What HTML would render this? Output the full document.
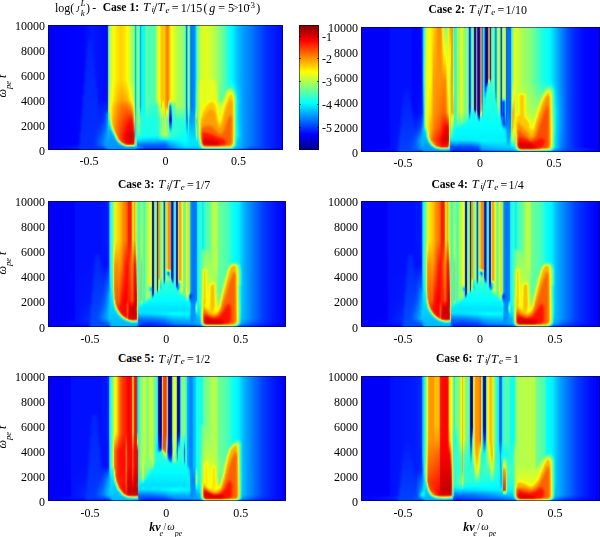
<!DOCTYPE html>
<html><head><meta charset="utf-8">
<style>
html,body{margin:0;padding:0;background:#fff;}
body{width:600px;height:537px;position:relative;overflow:hidden;font-family:"Liberation Serif",serif;color:#000;}
canvas{position:absolute;display:block;}
.t{position:absolute;white-space:nowrap;font-size:12px;line-height:12px;transform:scaleX(1);transform-origin:0 50%;}
.yl{position:absolute;white-space:nowrap;font-size:12px;line-height:12px;text-align:right;width:40px;transform:scaleX(1);transform-origin:100% 50%;}
.xl{position:absolute;white-space:nowrap;font-size:12px;line-height:12px;text-align:center;width:40px;transform:scaleX(1);transform-origin:50% 50%;}
.b{font-weight:bold;}
.p{position:absolute;white-space:nowrap;}
.rl{position:absolute;white-space:nowrap;width:40px;height:12px;font-size:12px;line-height:12px;text-align:center;transform:rotate(-90deg);transform-origin:50% 50%;}
.i{font-style:italic;}
sub,sup{font-size:70%;line-height:0;}
.cb{position:absolute;left:299px;top:25px;width:20px;height:125px;background:linear-gradient(to top,#000080 0%,#0000ff 12.5%,#00ffff 37.5%,#ffff00 62.5%,#ff0000 87.5%,#800000 100%);}
.frame{position:absolute;box-sizing:border-box;border:1px solid rgba(0,0,40,.55);pointer-events:none;}
</style></head><body>
<div id="fb"><div style="position:absolute;left:48px;top:25px;width:235px;height:1px;background:linear-gradient(90deg,#008 0.2%,#008 24.9%,#016 25.3%,#367 25.7%,#672 27.4%,#573 35.1%,#156 37.2%,#266 38.9%,#068 39.8%,#276 44.5%,#751 48.7%,#741 51.3%,#672 53.8%,#375 58.1%,#036 58.9%,#376 59.8%,#038 61.5%,#276 63.6%,#672 67.0%,#058 81.1%,#008 99.8%)"></div>
<div style="position:absolute;left:48px;top:26px;width:235px;height:65px;background:linear-gradient(90deg,#008 0.2%,#00e 0.6%,#01f 22.8%,#01e 24.9%,#03b 25.3%,#7cc 25.7%,#bf4 26.6%,#fe0 28.7%,#fd0 32.6%,#df2 34.7%,#8f8 36.4%,#6ea 36.8%,#1ba 37.2%,#4ec 37.7%,#7f9 38.5%,#5eb 38.9%,#0bb 39.4%,#1df 39.8%,#1fe 41.1%,#6fa 42.3%,#5fa 45.3%,#fe1 47.4%,#fa0 50.0%,#f80 50.9%,#ff1 52.6%,#8f7 57.7%,#5dc 58.5%,#08a 58.9%,#7fb 59.8%,#6eb 60.2%,#19c 60.6%,#08f 61.9%,#1be 62.8%,#6fa 63.6%,#cf3 65.3%,#bf4 70.9%,#0ef 78.9%,#03f 93.0%,#01f 99.4%,#008 99.8%)"></div>
<div style="position:absolute;left:48px;top:91px;width:235px;height:10px;background:linear-gradient(90deg,#008 0.2%,#00e 0.6%,#01f 15.1%,#01e 24.9%,#03a 25.3%,#8cb 25.7%,#cf3 26.6%,#fd0 28.7%,#fb0 32.6%,#ef1 35.5%,#7e9 36.8%,#2b9 37.2%,#4eb 37.7%,#7f9 38.5%,#5eb 38.9%,#0bb 39.4%,#1df 39.8%,#1fe 41.1%,#6fa 42.3%,#5fa 45.3%,#ff1 47.4%,#fa0 50.0%,#e80 50.9%,#ff1 52.6%,#8f7 57.7%,#5dc 58.5%,#08a 58.9%,#7fb 59.8%,#6eb 60.2%,#19c 60.6%,#08f 61.9%,#4ec 63.2%,#cf3 64.5%,#df2 71.3%,#6f9 73.8%,#af5 75.5%,#ed1 77.2%,#ee2 78.5%,#1ee 80.2%,#08f 85.3%,#01f 99.4%,#008 99.8%)"></div>
<div style="position:absolute;left:48px;top:101px;width:235px;height:4px;background:linear-gradient(90deg,#008 0.2%,#00e 0.6%,#02f 15.1%,#02e 24.9%,#14a 25.3%,#8da 25.7%,#df2 26.6%,#f90 30.0%,#fa0 34.3%,#fe1 36.0%,#9e8 36.8%,#3b9 37.2%,#4eb 37.7%,#7f9 38.5%,#5eb 38.9%,#0bb 39.4%,#1df 39.8%,#1fe 41.1%,#6fa 42.3%,#5fa 45.7%,#ee2 47.9%,#ec0 48.3%,#fc0 49.6%,#e90 50.9%,#dc3 51.3%,#7e8 52.1%,#af5 54.7%,#8f7 57.7%,#5dc 58.5%,#08a 58.9%,#7fb 59.8%,#6eb 60.2%,#19c 60.6%,#08f 61.9%,#2ce 62.8%,#af5 64.0%,#ef1 65.7%,#fd0 70.4%,#af5 73.8%,#fd0 76.0%,#fa0 78.1%,#ee2 78.9%,#2ed 80.2%,#0af 82.3%,#01f 98.5%,#01f 99.4%,#008 99.8%)"></div>
<div style="position:absolute;left:48px;top:105px;width:235px;height:6px;background:linear-gradient(90deg,#008 0.2%,#00e 0.6%,#01f 14.7%,#03e 24.9%,#14a 25.3%,#8da 25.7%,#ef2 26.6%,#f80 30.4%,#f70 34.7%,#fb0 36.0%,#ae7 36.8%,#3b8 37.2%,#4eb 37.7%,#7f9 38.5%,#5eb 38.9%,#1cc 39.4%,#1ef 39.8%,#3fc 41.5%,#5fa 42.3%,#4fb 46.2%,#de2 48.3%,#ee2 49.6%,#fb0 50.4%,#dc1 50.9%,#be7 51.3%,#39a 51.7%,#08c 52.1%,#5fc 53.0%,#9f6 55.5%,#6f9 58.1%,#5dc 58.5%,#08a 58.9%,#7fb 59.8%,#5ec 60.2%,#19c 60.6%,#08f 61.9%,#2cd 62.8%,#7f8 63.6%,#df2 64.9%,#fc0 70.4%,#df2 73.4%,#fd0 75.1%,#f90 77.2%,#fb0 78.5%,#bf5 79.4%,#2ed 80.2%,#0bf 81.9%,#01f 97.2%,#01f 99.4%,#008 99.8%)"></div>
<div style="position:absolute;left:48px;top:111px;width:235px;height:6px;background:linear-gradient(90deg,#008 0.2%,#00e 0.6%,#02f 14.7%,#04f 24.5%,#08d 25.3%,#5dc 25.7%,#ee1 27.0%,#f60 31.7%,#f50 35.5%,#eb1 36.4%,#ce6 36.8%,#4c8 37.2%,#4eb 37.7%,#8f8 38.5%,#1fe 39.8%,#2fc 43.6%,#3fb 46.6%,#bf4 48.7%,#de3 50.4%,#ae9 51.3%,#26a 51.7%,#04c 52.1%,#17d 52.6%,#4ee 53.0%,#6f9 55.5%,#5fb 58.1%,#4ed 58.5%,#08b 58.9%,#5ed 59.8%,#0ae 60.6%,#09f 61.9%,#0ad 62.3%,#8f9 63.2%,#cf3 64.5%,#fc0 66.2%,#fa0 70.4%,#ef1 73.0%,#fc0 74.7%,#f90 77.7%,#ed2 78.9%,#2ed 80.2%,#0bf 81.9%,#01f 97.2%,#01f 99.4%,#008 99.8%)"></div>
<div style="position:absolute;left:48px;top:117px;width:235px;height:9px;background:linear-gradient(90deg,#008 0.2%,#00e 0.6%,#02f 14.3%,#04f 24.0%,#09e 25.3%,#2de 25.7%,#de3 27.0%,#fa0 27.9%,#f10 35.1%,#e30 36.0%,#e71 36.4%,#cc6 36.8%,#5c9 37.2%,#4eb 37.7%,#9f8 38.5%,#2fd 40.2%,#3fc 47.0%,#9f7 48.7%,#af6 50.0%,#7db 51.3%,#16b 51.7%,#03c 52.1%,#06d 52.6%,#4de 53.0%,#3fc 54.7%,#3ee 58.5%,#0ad 58.9%,#1ac 59.4%,#4ee 59.8%,#0ae 60.6%,#1bd 62.3%,#7d8 63.2%,#9f6 64.0%,#ee1 64.9%,#f90 67.0%,#fa0 71.7%,#fe0 73.4%,#f60 77.2%,#fa0 78.5%,#bf5 79.4%,#2fd 80.2%,#0bf 81.9%,#01f 97.2%,#01f 99.4%,#008 99.8%)"></div>
<div style="position:absolute;left:48px;top:126px;width:235px;height:7px;background:linear-gradient(90deg,#008 0.2%,#00e 0.6%,#02f 14.3%,#05f 23.2%,#1cd 26.6%,#cd4 27.9%,#f70 29.1%,#e00 35.1%,#e10 36.0%,#d31 36.4%,#5ca 37.2%,#3ec 37.7%,#5fa 38.9%,#1fd 40.6%,#3fc 47.0%,#9f6 49.1%,#9f6 50.4%,#6fa 51.3%,#0cd 52.1%,#3fc 53.8%,#1fe 58.5%,#0ce 59.4%,#2ef 59.8%,#0bf 61.5%,#0ce 62.3%,#7f9 63.2%,#8f7 64.0%,#ec1 64.9%,#f60 66.2%,#f80 71.7%,#f80 74.7%,#f60 77.7%,#ed2 78.9%,#3fc 80.2%,#0bf 81.9%,#01f 96.8%,#01f 99.4%,#008 99.8%)"></div>
<div style="position:absolute;left:48px;top:133px;width:235px;height:4px;background:linear-gradient(90deg,#008 0.2%,#00e 0.6%,#02f 13.8%,#05f 22.8%,#0af 26.2%,#2dd 27.9%,#be6 28.7%,#e80 29.6%,#f00 33.0%,#c10 36.4%,#6ca 37.2%,#3ed 37.7%,#1fe 46.6%,#9f6 49.6%,#6f9 51.3%,#3fc 53.0%,#0df 60.2%,#0ce 62.3%,#7fb 63.2%,#5e9 63.6%,#be5 64.5%,#f70 65.3%,#f20 66.2%,#f50 71.7%,#f80 78.1%,#ed2 78.9%,#3fc 80.2%,#0bf 81.9%,#01f 96.8%,#01f 99.4%,#008 99.8%)"></div>
<div style="position:absolute;left:48px;top:137px;width:235px;height:3px;background:linear-gradient(90deg,#008 0.2%,#00e 0.6%,#02f 13.8%,#05f 21.9%,#09f 26.2%,#0be 28.3%,#7e9 29.1%,#cd5 29.6%,#e60 30.4%,#f00 33.0%,#c10 36.4%,#8d9 37.2%,#1ee 38.1%,#1ee 47.9%,#1fe 51.7%,#0df 60.6%,#1ed 62.8%,#5fa 64.0%,#ec3 64.9%,#e30 65.7%,#e00 67.0%,#f50 75.5%,#f80 78.1%,#ed2 78.9%,#2ed 80.2%,#0af 82.3%,#01f 98.1%,#01f 99.4%,#008 99.8%)"></div>
<div style="position:absolute;left:48px;top:140px;width:235px;height:3px;background:linear-gradient(90deg,#008 0.2%,#00e 0.6%,#02f 13.8%,#05f 21.5%,#09f 26.2%,#1be 29.1%,#7e9 30.0%,#e71 31.3%,#f10 33.0%,#c20 36.4%,#9d8 37.2%,#4ec 37.7%,#1cd 38.1%,#0bf 42.8%,#0cf 51.3%,#0ef 59.8%,#0ee 63.6%,#7f9 64.5%,#ce5 64.9%,#e40 65.7%,#d00 66.6%,#f20 74.7%,#f80 78.1%,#ee3 78.9%,#1ed 80.2%,#07f 86.6%,#01f 99.4%,#008 99.8%)"></div>
<div style="position:absolute;left:48px;top:143px;width:235px;height:2px;background:linear-gradient(90deg,#008 0.2%,#00e 0.6%,#01f 13.4%,#05f 21.9%,#09f 25.7%,#0ae 30.0%,#8e9 31.3%,#d92 32.6%,#e30 34.3%,#c50 36.4%,#cb5 36.8%,#4ed 37.7%,#09d 38.1%,#07f 42.3%,#09f 50.9%,#0ef 59.4%,#1ee 64.0%,#9f7 64.9%,#ed4 65.3%,#e70 65.7%,#d10 66.6%,#f20 74.3%,#e90 78.1%,#cf4 78.9%,#1de 80.2%,#05f 89.6%,#01f 99.4%,#008 99.8%)"></div>
<div style="position:absolute;left:48px;top:145px;width:235px;height:1px;background:linear-gradient(90deg,#008 0.2%,#00e 0.6%,#02f 13.8%,#05f 22.3%,#09f 26.2%,#0ae 30.9%,#ae8 33.0%,#dd7 35.1%,#be8 36.4%,#2df 37.7%,#09e 38.1%,#06f 44.0%,#07f 50.9%,#0df 59.4%,#0ee 64.0%,#6f9 64.9%,#ec3 65.7%,#e50 66.6%,#e40 72.6%,#ea0 77.7%,#de4 78.5%,#2ed 79.8%,#0af 82.3%,#01f 99.4%,#008 99.8%)"></div>
<div style="position:absolute;left:48px;top:146px;width:235px;height:1px;background:linear-gradient(90deg,#008 0.2%,#00f 0.6%,#05f 22.3%,#09f 26.2%,#0ae 31.7%,#6da 34.3%,#3dd 36.8%,#07f 38.9%,#05f 44.9%,#07f 50.9%,#0df 59.8%,#1ee 64.5%,#be6 65.7%,#ea2 67.0%,#eb2 75.1%,#cf4 78.1%,#1de 79.8%,#04f 90.0%,#01f 99.4%,#008 99.8%)"></div>
<div style="position:absolute;left:48px;top:147px;width:235px;height:1px;background:linear-gradient(90deg,#008 0.2%,#00f 0.6%,#05f 23.2%,#08f 26.6%,#0be 36.8%,#04f 42.3%,#06f 50.9%,#1cf 60.6%,#1df 64.5%,#ae7 66.6%,#9f7 77.7%,#0cf 79.8%,#04f 90.0%,#00f 99.4%,#008 99.8%)"></div>
<div style="position:absolute;left:48px;top:148px;width:235px;height:1px;background:linear-gradient(90deg,#008 0.2%,#00e 0.6%,#02f 13.8%,#04f 24.0%,#08f 27.0%,#08f 37.2%,#03f 42.3%,#05f 51.7%,#09f 61.5%,#2ce 65.3%,#5db 67.9%,#4dc 78.1%,#09f 80.2%,#00f 98.5%,#00f 99.4%,#008 99.8%)"></div>
<div style="position:absolute;left:48px;top:149px;width:235px;height:1px;background:linear-gradient(90deg,#008 0.2%,#028 24.9%,#038 37.2%,#018 48.7%,#057 77.7%,#008 99.8%)"></div>
<div style="position:absolute;left:361px;top:27px;width:239px;height:1px;background:linear-gradient(90deg,#008 0.2%,#018 25.3%,#276 26.6%,#771 28.7%,#741 33.3%,#474 35.8%,#641 37.9%,#177 39.5%,#672 42.1%,#257 45.0%,#026 45.4%,#376 46.7%,#366 47.1%,#014 47.5%,#114 47.9%,#436 48.3%,#005 49.2%,#534 50.0%,#245 50.8%,#268 51.3%,#005 52.5%,#544 53.3%,#544 53.8%,#123 54.2%,#366 54.6%,#167 55.9%,#156 56.7%,#574 57.5%,#246 58.4%,#024 58.8%,#465 59.2%,#574 60.0%,#038 61.3%,#037 62.6%,#574 63.8%,#573 66.3%,#058 81.4%,#008 96.0%,#008 99.8%)"></div>
<div style="position:absolute;left:361px;top:28px;width:239px;height:58px;background:linear-gradient(90deg,#008 0.2%,#00f 0.6%,#01e 25.3%,#3ce 26.2%,#9f6 27.0%,#ef1 28.2%,#f80 32.8%,#ef2 36.6%,#cb1 38.3%,#ae7 38.7%,#5ea 39.1%,#3fb 39.5%,#9f7 40.4%,#df2 42.1%,#8f7 43.7%,#7fa 44.6%,#4cd 45.0%,#04a 45.4%,#17c 45.8%,#6dc 46.2%,#7fa 46.7%,#7db 47.1%,#026 47.5%,#216 47.9%,#97b 48.3%,#339 48.7%,#109 49.2%,#316 49.6%,#b76 50.0%,#a96 50.4%,#488 50.8%,#4df 51.3%,#29e 51.7%,#02a 52.1%,#315 52.9%,#b97 53.3%,#b97 53.8%,#255 54.2%,#6cb 54.6%,#6fa 55.4%,#3dd 55.9%,#09c 56.3%,#3bb 56.7%,#9e9 57.1%,#af6 57.5%,#9e9 57.9%,#4aa 58.4%,#157 58.8%,#ad9 59.2%,#bf5 59.6%,#bf5 60.0%,#9d9 60.5%,#16a 60.9%,#06e 61.3%,#07d 62.6%,#3de 63.0%,#df3 64.2%,#0ef 79.7%,#02f 90.2%,#00f 99.4%,#008 99.8%)"></div>
<div style="position:absolute;left:361px;top:86px;width:239px;height:7px;background:linear-gradient(90deg,#008 0.2%,#00f 0.6%,#01e 25.3%,#2be 26.2%,#af6 27.0%,#ef1 27.8%,#fb0 29.9%,#f80 32.8%,#f80 35.4%,#ff1 36.6%,#cd3 37.4%,#db1 38.3%,#ce5 38.7%,#6e8 39.1%,#4fb 39.5%,#9f7 40.4%,#df2 42.1%,#8f7 43.7%,#7fa 44.6%,#4cd 45.0%,#04a 45.4%,#17c 45.8%,#6dc 46.2%,#7fa 46.7%,#7db 47.1%,#026 47.5%,#216 47.9%,#97b 48.3%,#339 48.7%,#109 49.2%,#316 49.6%,#b76 50.0%,#a96 50.4%,#488 50.8%,#4df 51.3%,#06d 52.1%,#2de 52.9%,#4fb 55.0%,#3ee 55.9%,#0ac 56.3%,#3bb 56.7%,#9f9 57.1%,#af6 57.5%,#9e9 57.9%,#4aa 58.4%,#157 58.8%,#ad9 59.2%,#bf5 59.6%,#bf5 60.0%,#9d9 60.5%,#16a 60.9%,#06e 61.3%,#06f 62.1%,#07d 62.6%,#5dc 63.0%,#cf3 63.8%,#cf2 65.1%,#5fa 76.4%,#af5 78.5%,#0df 81.0%,#03f 88.9%,#00f 99.4%,#008 99.8%)"></div>
<div style="position:absolute;left:361px;top:93px;width:239px;height:8px;background:linear-gradient(90deg,#008 0.2%,#00f 0.6%,#00f 21.5%,#01e 25.3%,#2ae 26.2%,#af6 27.0%,#ef1 27.8%,#fb0 29.9%,#f70 34.9%,#df3 37.0%,#db1 38.3%,#ce5 38.7%,#6e8 39.1%,#4fb 39.5%,#9f7 40.4%,#df2 42.1%,#8f7 43.7%,#7fa 44.6%,#4cd 45.0%,#04a 45.4%,#17c 45.8%,#6dc 46.2%,#7fa 46.7%,#7db 47.1%,#026 47.5%,#216 47.9%,#97b 48.3%,#339 48.7%,#109 49.2%,#316 49.6%,#b76 50.0%,#a96 50.4%,#498 50.8%,#3de 51.3%,#0de 52.1%,#3fc 54.6%,#2ee 55.9%,#1cd 56.3%,#2cb 56.7%,#8f8 57.1%,#af6 57.5%,#9e9 57.9%,#4aa 58.4%,#058 58.8%,#8db 59.2%,#9e8 59.6%,#9e8 60.0%,#8db 60.5%,#16a 60.9%,#06e 61.3%,#06e 62.1%,#07c 62.6%,#6db 63.0%,#ef2 63.8%,#ef2 65.9%,#ed1 68.0%,#9f6 70.9%,#8f7 75.1%,#fc1 77.2%,#fa0 78.5%,#ee2 79.3%,#1ee 81.0%,#04f 87.2%,#00f 98.5%,#00f 99.4%,#008 99.8%)"></div>
<div style="position:absolute;left:361px;top:101px;width:239px;height:11px;background:linear-gradient(90deg,#008 0.2%,#00f 0.6%,#01f 21.1%,#02e 25.3%,#1ae 26.2%,#9f6 27.0%,#ff1 27.8%,#f80 32.0%,#f70 35.4%,#ef3 37.0%,#db1 37.9%,#eb1 38.3%,#4fb 39.5%,#9f7 40.4%,#df2 42.1%,#8f7 43.7%,#7fa 44.6%,#4cd 45.0%,#04a 45.4%,#17c 45.8%,#5dd 46.2%,#6fb 46.7%,#6dc 47.1%,#048 47.5%,#227 47.9%,#98c 48.3%,#339 48.7%,#009 49.2%,#316 49.6%,#b86 50.0%,#bb6 50.4%,#4b9 50.8%,#2ee 51.3%,#2fc 56.7%,#8f8 57.5%,#8ea 57.9%,#03c 58.8%,#15f 59.2%,#04e 59.6%,#3bf 60.5%,#06d 60.9%,#06e 62.1%,#07c 62.6%,#7da 63.0%,#ed1 63.8%,#df2 65.5%,#fc0 67.6%,#af4 70.1%,#af5 73.8%,#fb0 75.9%,#f70 78.0%,#ed1 79.3%,#2fd 81.0%,#0af 83.1%,#02f 90.2%,#00f 99.4%,#008 99.8%)"></div>
<div style="position:absolute;left:361px;top:112px;width:239px;height:5px;background:linear-gradient(90deg,#008 0.2%,#00f 0.6%,#02f 17.8%,#01f 24.9%,#05e 25.7%,#5eb 26.6%,#df3 27.4%,#fd0 29.1%,#f70 32.0%,#f60 35.4%,#eb0 36.6%,#ee3 37.0%,#ce3 37.4%,#ed1 38.3%,#be4 38.7%,#4fb 39.5%,#9f6 40.8%,#bf4 42.5%,#7f8 43.7%,#6fa 44.6%,#4dd 45.0%,#08c 45.4%,#2ef 46.2%,#2cc 47.9%,#6ee 48.3%,#02a 49.2%,#127 49.6%,#ac9 50.0%,#9f9 50.4%,#3da 50.8%,#2fe 51.3%,#2fd 57.1%,#4ed 57.9%,#04d 58.8%,#15f 59.2%,#03e 59.6%,#2af 60.5%,#06e 60.9%,#07e 62.1%,#17b 62.6%,#8ca 63.0%,#cc4 63.4%,#ec0 64.2%,#ee1 65.5%,#fd0 68.0%,#bf4 70.5%,#cf3 73.0%,#fb0 74.7%,#f50 77.6%,#f90 78.9%,#df3 79.7%,#1ee 81.4%,#04f 87.2%,#00f 98.5%,#00f 99.4%,#008 99.8%)"></div>
<div style="position:absolute;left:361px;top:117px;width:239px;height:6px;background:linear-gradient(90deg,#008 0.2%,#00f 0.6%,#02f 16.9%,#03f 24.9%,#1ae 26.2%,#9f7 27.0%,#fe1 27.8%,#f50 33.3%,#f40 35.8%,#e80 36.6%,#ee4 37.0%,#be3 37.4%,#df3 38.3%,#3fb 39.5%,#8f7 42.1%,#1ff 45.8%,#1ef 48.7%,#0ad 49.6%,#2ee 50.0%,#1fe 55.4%,#1df 58.4%,#05e 59.6%,#18f 60.5%,#07f 61.3%,#07e 62.1%,#18b 62.6%,#8d9 63.0%,#cc3 63.4%,#fd0 64.2%,#fd0 69.2%,#cf3 72.2%,#fb0 73.8%,#f50 76.8%,#f70 78.5%,#ef3 79.7%,#1ee 81.4%,#04f 87.2%,#00f 98.5%,#00f 99.4%,#008 99.8%)"></div>
<div style="position:absolute;left:361px;top:123px;width:239px;height:6px;background:linear-gradient(90deg,#008 0.2%,#00f 0.6%,#02f 16.5%,#04f 24.9%,#1be 26.2%,#8f8 27.0%,#ee1 27.8%,#f50 32.8%,#f10 35.8%,#d40 36.6%,#ed5 37.0%,#ae5 37.4%,#9f7 38.3%,#2fd 39.5%,#0ff 57.1%,#0df 58.8%,#08e 60.0%,#08e 62.1%,#29b 62.6%,#9d9 63.0%,#cc3 63.4%,#fe0 64.2%,#f90 66.3%,#fe1 72.2%,#f50 75.5%,#f70 78.5%,#ef2 79.7%,#1ee 81.4%,#04f 87.7%,#00f 99.4%,#008 99.8%)"></div>
<div style="position:absolute;left:361px;top:129px;width:239px;height:8px;background:linear-gradient(90deg,#008 0.2%,#00f 0.6%,#02f 16.1%,#06f 24.5%,#1dd 27.0%,#de3 28.2%,#fa0 29.1%,#e00 34.9%,#d00 36.2%,#c30 36.6%,#dd6 37.0%,#7e8 37.4%,#0ff 39.5%,#0df 60.5%,#09f 61.7%,#2bc 62.6%,#8e8 63.0%,#ce4 63.4%,#de2 64.6%,#f60 65.9%,#fb0 71.8%,#f50 75.1%,#f60 78.5%,#ef2 79.7%,#1ee 81.4%,#04f 87.2%,#00f 98.5%,#00f 99.4%,#008 99.8%)"></div>
<div style="position:absolute;left:361px;top:137px;width:239px;height:5px;background:linear-gradient(90deg,#008 0.2%,#00f 0.6%,#02f 15.7%,#07f 23.6%,#1ce 27.4%,#ce5 28.7%,#e90 29.5%,#f20 32.4%,#d00 36.2%,#b30 36.6%,#cd8 37.0%,#4da 37.4%,#0ef 38.3%,#0ef 60.5%,#0af 61.7%,#2dd 62.6%,#af7 63.4%,#8f6 64.2%,#ed3 65.1%,#e70 65.5%,#f20 66.3%,#f50 72.2%,#f20 75.9%,#f60 78.5%,#ef3 79.7%,#2ed 81.0%,#0af 82.6%,#02f 90.6%,#00f 99.4%,#008 99.8%)"></div>
<div style="position:absolute;left:361px;top:142px;width:239px;height:3px;background:linear-gradient(90deg,#008 0.2%,#00f 0.6%,#02f 15.3%,#07f 23.6%,#0af 26.6%,#1be 28.2%,#ae6 29.5%,#f80 30.8%,#f10 33.7%,#e10 36.2%,#c51 36.6%,#bc9 37.0%,#3ab 37.4%,#09f 38.3%,#0bf 49.6%,#0df 60.5%,#0cf 62.1%,#4fb 63.8%,#5f9 64.2%,#ed4 65.1%,#e60 65.5%,#e20 65.9%,#e00 69.7%,#f30 76.8%,#f90 78.9%,#ef3 79.7%,#2ed 81.0%,#09f 83.1%,#01f 91.8%,#00f 99.4%,#008 99.8%)"></div>
<div style="position:absolute;left:361px;top:145px;width:239px;height:2px;background:linear-gradient(90deg,#008 0.2%,#00f 0.6%,#02f 15.3%,#08f 24.1%,#09f 27.4%,#1be 29.1%,#9e8 30.3%,#d91 31.6%,#e20 34.5%,#d30 36.2%,#c83 36.6%,#aca 37.0%,#28b 37.4%,#06f 38.3%,#08f 49.2%,#0bf 52.1%,#0df 62.6%,#3fc 64.2%,#ce6 65.1%,#e81 65.5%,#d30 65.9%,#d00 66.7%,#f20 75.5%,#f70 78.5%,#ec1 79.3%,#df3 79.7%,#2ed 81.0%,#06f 85.1%,#00f 95.6%,#00f 99.4%,#008 99.8%)"></div>
<div style="position:absolute;left:361px;top:147px;width:239px;height:1px;background:linear-gradient(90deg,#008 0.2%,#00f 0.6%,#02f 15.3%,#07f 24.1%,#1be 29.9%,#ae8 31.6%,#dc5 32.8%,#d93 34.9%,#ca3 36.2%,#bd7 36.6%,#7db 37.0%,#17c 37.4%,#04f 38.7%,#06f 49.2%,#0af 51.7%,#0df 63.8%,#4eb 64.6%,#dc4 65.5%,#d60 65.9%,#d10 66.7%,#e20 74.3%,#e90 78.5%,#bf5 79.7%,#1ee 81.0%,#05f 85.6%,#00f 98.1%,#00f 99.4%,#008 99.8%)"></div>
<div style="position:absolute;left:361px;top:148px;width:239px;height:1px;background:linear-gradient(90deg,#008 0.2%,#00f 0.6%,#02f 15.3%,#08f 24.9%,#0ae 30.3%,#8e9 32.8%,#9d9 35.8%,#5cd 37.0%,#06d 37.4%,#04f 39.1%,#05f 49.2%,#0af 51.7%,#0de 64.2%,#6ea 65.1%,#be7 65.5%,#d71 66.3%,#d30 68.0%,#e60 74.3%,#de3 78.9%,#2ed 80.5%,#09f 82.6%,#02f 90.2%,#00f 99.4%,#008 99.8%)"></div>
<div style="position:absolute;left:361px;top:149px;width:239px;height:1px;background:linear-gradient(90deg,#008 0.2%,#00f 0.6%,#02f 15.3%,#0ae 31.6%,#4dc 35.4%,#2bf 37.0%,#06e 37.4%,#03f 39.5%,#04f 49.2%,#09f 51.7%,#0cf 64.2%,#7ea 65.5%,#cd6 66.3%,#d94 68.0%,#dc5 74.7%,#9f7 78.9%,#0bf 81.0%,#03f 88.1%,#00f 99.4%,#008 99.8%)"></div>
<div style="position:absolute;left:361px;top:150px;width:239px;height:1px;background:linear-gradient(90deg,#008 0.2%,#00e 0.6%,#02f 15.3%,#04f 20.3%,#06f 25.7%,#09f 29.9%,#09e 36.6%,#02f 38.3%,#04f 49.6%,#07f 53.8%,#0ae 64.6%,#8d9 66.7%,#7e9 75.1%,#3dd 79.3%,#08f 81.4%,#02f 91.4%,#00e 99.4%,#008 99.8%)"></div>
<div style="position:absolute;left:361px;top:151px;width:239px;height:1px;background:linear-gradient(90deg,#008 0.2%,#028 25.7%,#048 36.6%,#018 39.5%,#157 66.3%,#038 80.1%,#008 99.8%)"></div>
<div style="position:absolute;left:48px;top:201px;width:238px;height:1px;background:linear-gradient(90deg,#008 0.2%,#017 25.4%,#277 26.7%,#761 29.2%,#611 34.7%,#762 35.9%,#276 38.4%,#474 41.4%,#673 43.1%,#564 43.5%,#114 43.9%,#014 44.3%,#366 44.7%,#465 45.6%,#122 46.0%,#543 46.4%,#475 48.1%,#035 48.9%,#356 49.4%,#741 50.6%,#534 51.5%,#016 52.3%,#268 53.2%,#268 53.6%,#016 54.0%,#115 54.4%,#655 54.8%,#651 55.7%,#474 57.8%,#662 58.6%,#038 60.7%,#048 62.4%,#177 63.7%,#375 68.3%,#474 71.2%,#058 82.1%,#008 99.8%)"></div>
<div style="position:absolute;left:48px;top:202px;width:238px;height:62px;background:linear-gradient(90deg,#008 0.2%,#00f 0.6%,#02f 25.0%,#03e 25.4%,#3ee 26.3%,#9f6 27.5%,#fd0 28.8%,#f40 33.4%,#e30 34.7%,#fb1 35.5%,#e90 36.3%,#be5 37.2%,#5fa 38.0%,#9f7 39.3%,#5fa 40.5%,#df2 42.6%,#ef3 43.1%,#cd7 43.5%,#225 43.9%,#037 44.3%,#8db 44.7%,#8e9 45.2%,#8d9 45.6%,#332 46.0%,#b95 46.4%,#cb3 46.8%,#9f6 47.7%,#9f9 48.1%,#4bb 48.5%,#069 48.9%,#8ca 49.4%,#fc1 50.2%,#e81 51.1%,#c86 51.5%,#338 51.9%,#02a 52.3%,#5de 53.2%,#5ce 53.6%,#03a 54.0%,#237 54.4%,#dc8 54.8%,#ea1 55.3%,#fd1 56.1%,#6f8 57.4%,#de1 58.6%,#ce3 59.0%,#8e8 59.5%,#2bc 59.9%,#07f 60.7%,#08e 62.4%,#1df 62.8%,#4fb 65.8%,#8f7 68.7%,#af5 70.8%,#6f9 72.9%,#0ef 80.5%,#03f 92.2%,#00f 99.4%,#008 99.8%)"></div>
<div style="position:absolute;left:48px;top:264px;width:238px;height:6px;background:linear-gradient(90deg,#008 0.2%,#00f 0.6%,#01f 23.3%,#03e 25.4%,#2ee 26.3%,#7f8 27.1%,#ce5 27.5%,#da1 27.9%,#f60 31.3%,#f10 33.4%,#f71 35.5%,#e20 36.3%,#d30 36.8%,#d94 37.2%,#9d8 37.6%,#5fa 38.0%,#7e8 38.9%,#9d6 39.3%,#5fa 40.5%,#df2 42.6%,#ef3 43.1%,#cd7 43.5%,#225 43.9%,#037 44.3%,#8db 44.7%,#8e9 45.2%,#8d9 45.6%,#332 46.0%,#b95 46.4%,#cb3 46.8%,#9f6 47.7%,#9f9 48.1%,#4bb 48.5%,#069 48.9%,#8ca 49.4%,#ec1 50.2%,#e91 51.1%,#c86 51.5%,#338 51.9%,#02a 52.3%,#5de 53.2%,#5ce 53.6%,#03a 54.0%,#237 54.4%,#dc8 54.8%,#ea1 55.3%,#fd1 56.1%,#6f8 57.4%,#de1 58.6%,#ce3 59.0%,#8e8 59.5%,#2bc 59.9%,#07f 60.7%,#08e 62.4%,#1df 62.8%,#7f8 64.9%,#af5 66.2%,#af5 70.8%,#6f9 72.9%,#6f9 75.4%,#ec1 77.5%,#de3 79.2%,#1ee 80.9%,#07f 86.3%,#00f 99.4%,#008 99.8%)"></div>
<div style="position:absolute;left:48px;top:270px;width:238px;height:11px;background:linear-gradient(90deg,#008 0.2%,#00f 0.6%,#03f 25.0%,#05e 25.4%,#1ef 26.3%,#6f9 27.1%,#ce6 27.5%,#da1 27.9%,#f80 29.6%,#f10 33.4%,#f61 35.5%,#e10 36.3%,#d20 36.8%,#ad8 37.6%,#5ea 38.0%,#4fb 38.4%,#8d6 39.3%,#5fa 40.5%,#df2 42.6%,#ef3 43.1%,#cd7 43.5%,#225 43.9%,#037 44.3%,#8db 44.7%,#8e9 45.2%,#8d9 45.6%,#342 46.0%,#b95 46.4%,#cb4 46.8%,#9f9 48.1%,#4bb 48.5%,#069 48.9%,#5dc 49.4%,#7fa 49.8%,#4da 50.6%,#7dc 51.5%,#15a 51.9%,#03a 52.3%,#5de 53.2%,#5ce 53.6%,#03a 54.0%,#237 54.4%,#dc8 54.8%,#ea1 55.3%,#ed1 56.1%,#6f8 57.4%,#de1 58.6%,#ce3 59.0%,#8e8 59.5%,#2bc 59.9%,#07f 60.7%,#08e 62.4%,#1df 62.8%,#7f8 64.5%,#ef2 65.3%,#ee1 66.2%,#af5 68.3%,#8f7 71.2%,#6f9 73.7%,#ec1 75.8%,#f70 77.9%,#fc1 79.2%,#af5 80.0%,#1de 81.3%,#07f 86.8%,#00f 99.4%,#008 99.8%)"></div>
<div style="position:absolute;left:48px;top:281px;width:238px;height:5px;background:linear-gradient(90deg,#008 0.2%,#00f 0.6%,#02f 19.1%,#05f 25.0%,#0af 25.8%,#2fd 26.7%,#ce6 27.5%,#d91 27.9%,#f70 29.2%,#f40 30.9%,#f10 33.4%,#f61 35.5%,#e10 36.3%,#d10 36.8%,#c52 37.2%,#bd7 37.6%,#5ea 38.0%,#4fb 38.4%,#8d7 39.3%,#5fa 40.5%,#cf3 42.6%,#df4 43.1%,#bd8 43.5%,#136 43.9%,#037 44.3%,#8db 44.7%,#8e9 45.2%,#8d9 45.6%,#242 46.0%,#bc7 46.4%,#9f8 46.8%,#4ea 47.3%,#4fd 48.1%,#1cc 48.9%,#3fc 50.2%,#2ee 51.9%,#1dd 52.7%,#3ed 53.2%,#4df 53.6%,#04b 54.0%,#03b 54.4%,#4be 54.8%,#af6 55.7%,#cf4 56.1%,#6f8 57.4%,#de1 58.6%,#ce3 59.0%,#8e8 59.5%,#2bc 59.9%,#07f 60.7%,#08e 62.4%,#1df 62.8%,#4fa 64.1%,#ee2 65.3%,#fe0 66.2%,#cf3 67.9%,#df3 70.0%,#5f9 72.1%,#6f8 73.3%,#fc0 75.0%,#f60 77.5%,#f90 78.8%,#ee3 79.6%,#1de 81.3%,#06f 88.0%,#00f 99.4%,#008 99.8%)"></div>
<div style="position:absolute;left:48px;top:286px;width:238px;height:7px;background:linear-gradient(90deg,#008 0.2%,#00f 0.6%,#03f 19.1%,#05f 24.6%,#0af 25.8%,#1ee 26.7%,#5ea 27.1%,#be7 27.5%,#d91 27.9%,#f60 29.2%,#f40 30.9%,#f00 33.0%,#f51 35.5%,#e10 36.3%,#d10 36.8%,#c41 37.2%,#bd7 37.6%,#6ea 38.0%,#4fb 38.4%,#8d7 39.3%,#4fa 40.5%,#af6 41.8%,#4eb 43.1%,#4be 43.5%,#03a 43.9%,#038 44.3%,#7dc 44.7%,#7fa 45.2%,#7da 45.6%,#275 46.0%,#7da 46.4%,#1fe 47.7%,#2fe 53.6%,#0be 54.4%,#4eb 55.3%,#bf4 56.1%,#6f8 57.4%,#de1 58.6%,#ce3 59.0%,#8e9 59.5%,#2bc 59.9%,#07f 60.7%,#08e 62.4%,#1df 62.8%,#4fa 64.1%,#ee2 65.3%,#fd0 66.2%,#ef1 67.9%,#fb0 69.1%,#df3 70.4%,#6f9 71.6%,#7f7 72.9%,#ed1 74.2%,#f60 76.3%,#f70 78.4%,#ec1 79.2%,#9f7 80.0%,#1ee 80.9%,#07f 85.9%,#00f 99.4%,#008 99.8%)"></div>
<div style="position:absolute;left:48px;top:293px;width:238px;height:6px;background:linear-gradient(90deg,#008 0.2%,#00f 0.6%,#02f 18.3%,#06f 24.2%,#0ee 26.7%,#3ec 27.1%,#8e8 27.5%,#e70 28.4%,#f00 32.6%,#f51 35.5%,#d00 36.8%,#b30 37.2%,#cc7 37.6%,#6e9 38.0%,#4fb 38.4%,#8d7 39.3%,#4fa 40.5%,#9f6 41.8%,#6fa 43.1%,#3dd 43.5%,#09c 43.9%,#0ad 44.3%,#2ef 44.7%,#2fd 55.7%,#3fb 57.4%,#af6 58.6%,#8e9 59.0%,#06d 59.9%,#07f 62.0%,#08e 62.4%,#1df 62.8%,#5fa 64.1%,#ee2 65.3%,#fd0 66.2%,#ff1 67.9%,#fb0 69.1%,#ef2 70.4%,#7f8 71.6%,#9f6 72.5%,#fb0 73.7%,#f60 75.8%,#f70 78.4%,#fc1 79.2%,#de3 79.6%,#2ee 80.9%,#07f 85.9%,#00f 99.4%,#008 99.8%)"></div>
<div style="position:absolute;left:48px;top:299px;width:238px;height:5px;background:linear-gradient(90deg,#008 0.2%,#00f 0.6%,#02f 18.3%,#07f 24.2%,#0df 26.7%,#1ed 27.1%,#cd6 27.9%,#e91 28.4%,#f50 29.2%,#f00 32.6%,#f30 35.5%,#c00 36.8%,#b30 37.2%,#cd7 37.6%,#6e9 38.0%,#4fb 38.4%,#7f9 39.3%,#2fc 40.5%,#0ff 48.1%,#2fe 59.0%,#07f 60.7%,#09f 62.0%,#1fe 63.2%,#8f7 64.5%,#ed1 65.3%,#fe1 67.9%,#fb0 69.1%,#ef2 70.4%,#9f6 71.6%,#ed1 72.9%,#f60 74.6%,#f70 78.4%,#fb1 79.2%,#de3 79.6%,#2ed 80.9%,#09f 84.2%,#00f 98.1%,#00f 99.4%,#008 99.8%)"></div>
<div style="position:absolute;left:48px;top:304px;width:238px;height:6px;background:linear-gradient(90deg,#008 0.2%,#00f 0.6%,#02f 17.9%,#07f 24.2%,#1dd 27.5%,#ae7 28.4%,#e71 29.2%,#f10 30.5%,#f00 32.6%,#f41 33.4%,#e00 34.7%,#c00 36.8%,#b40 37.2%,#cd8 37.6%,#5ea 38.0%,#1ee 38.9%,#1ef 59.5%,#08f 60.7%,#09e 61.6%,#5fd 62.4%,#1ee 63.2%,#4fb 64.1%,#df4 64.9%,#fc0 65.8%,#fe0 67.9%,#fc0 69.5%,#df2 71.2%,#fc1 72.5%,#f50 74.2%,#f20 76.3%,#f80 78.8%,#ee3 79.6%,#2ed 80.9%,#0bf 82.1%,#01f 96.0%,#00f 99.4%,#008 99.8%)"></div>
<div style="position:absolute;left:48px;top:310px;width:238px;height:5px;background:linear-gradient(90deg,#008 0.2%,#00f 0.6%,#02f 17.4%,#08f 24.2%,#0cf 27.1%,#3dc 28.8%,#ad6 29.6%,#e30 30.9%,#f00 32.6%,#f41 33.4%,#d00 34.7%,#c00 36.8%,#b30 37.2%,#cc8 37.6%,#4ca 38.0%,#1de 38.4%,#1ef 59.5%,#08f 60.7%,#1be 62.0%,#1ee 62.8%,#1ee 63.7%,#9f7 64.5%,#ee4 64.9%,#ea0 65.3%,#f70 66.2%,#fd0 70.4%,#f20 74.2%,#f30 76.7%,#f80 78.8%,#ee3 79.6%,#2ed 80.9%,#0bf 82.1%,#01f 96.0%,#00f 99.4%,#008 99.8%)"></div>
<div style="position:absolute;left:48px;top:315px;width:238px;height:3px;background:linear-gradient(90deg,#008 0.2%,#00f 0.6%,#02f 17.0%,#09f 24.6%,#0cf 27.5%,#1ce 29.6%,#9e8 30.9%,#e61 32.1%,#e30 33.0%,#f41 33.4%,#d00 34.7%,#d00 36.8%,#c30 37.2%,#dc8 37.6%,#4aa 38.0%,#0af 38.9%,#0df 59.5%,#08f 60.7%,#0de 63.7%,#9f7 64.5%,#ed4 64.9%,#e70 65.3%,#f20 66.2%,#f60 70.4%,#f10 74.6%,#f40 77.1%,#f80 78.8%,#ee3 79.6%,#2ed 80.9%,#0af 82.6%,#01f 96.4%,#00f 99.4%,#008 99.8%)"></div>
<div style="position:absolute;left:48px;top:318px;width:238px;height:2px;background:linear-gradient(90deg,#008 0.2%,#00f 0.6%,#02f 16.6%,#09f 24.6%,#0bf 27.9%,#1de 30.9%,#bd6 32.6%,#ea3 33.4%,#d40 34.2%,#d30 36.8%,#b51 37.2%,#cc9 37.6%,#38a 38.0%,#07f 38.9%,#0bf 59.5%,#08f 60.7%,#0ce 63.7%,#3dc 64.1%,#ed4 64.9%,#e60 65.3%,#e20 65.8%,#e00 68.3%,#f30 76.7%,#f80 78.8%,#ee3 79.6%,#2ee 80.9%,#09f 83.4%,#01f 97.3%,#00f 99.4%,#008 99.8%)"></div>
<div style="position:absolute;left:48px;top:320px;width:238px;height:2px;background:linear-gradient(90deg,#008 0.2%,#00f 0.6%,#03f 17.4%,#09f 25.4%,#0bf 29.6%,#2dd 32.6%,#bd6 35.1%,#bc6 36.8%,#6dc 37.6%,#17c 38.0%,#06f 39.3%,#09f 51.9%,#09f 59.9%,#0be 63.7%,#2dc 64.1%,#ed5 64.9%,#e70 65.3%,#d20 65.8%,#d00 69.5%,#f20 76.3%,#f90 78.8%,#ee3 79.6%,#1de 80.9%,#08f 83.8%,#00f 98.5%,#00f 99.4%,#008 99.8%)"></div>
<div style="position:absolute;left:48px;top:322px;width:238px;height:2px;background:linear-gradient(90deg,#008 0.2%,#00f 0.6%,#03f 17.9%,#07f 25.4%,#0bf 27.5%,#2de 37.2%,#05f 38.4%,#05f 48.9%,#09f 58.2%,#0bf 63.7%,#6ea 64.5%,#be7 64.9%,#d40 65.8%,#d10 67.0%,#e30 75.0%,#e90 78.4%,#bf5 79.6%,#1ce 80.9%,#06f 85.1%,#00f 99.4%,#008 99.8%)"></div>
<div style="position:absolute;left:48px;top:324px;width:238px;height:1px;background:linear-gradient(90deg,#008 0.2%,#00e 0.6%,#02f 17.4%,#05f 22.9%,#07f 25.8%,#0bf 27.5%,#0bf 37.2%,#03f 38.9%,#05f 51.5%,#09f 63.7%,#3dd 64.5%,#be7 65.3%,#d71 66.6%,#e81 74.2%,#dd4 78.4%,#4dd 80.0%,#08f 81.3%,#01f 95.6%,#00f 99.4%,#008 99.8%)"></div>
<div style="position:absolute;left:48px;top:325px;width:238px;height:1px;background:linear-gradient(90deg,#008 0.2%,#00e 0.6%,#02f 17.4%,#04f 20.8%,#05f 25.4%,#0bf 27.5%,#0af 37.2%,#02f 38.9%,#07f 63.7%,#3cd 64.9%,#ce6 66.6%,#be6 76.3%,#8f8 78.4%,#1ae 80.0%,#06f 81.7%,#00e 99.4%,#008 99.8%)"></div>
<div style="position:absolute;left:48px;top:326px;width:238px;height:1px;background:linear-gradient(90deg,#008 0.2%,#018 17.9%,#028 25.8%,#058 29.2%,#038 37.6%,#018 40.1%,#038 64.5%,#365 67.0%,#167 78.8%,#028 82.1%,#008 99.8%)"></div>
<div style="position:absolute;left:361px;top:201px;width:239px;height:1px;background:linear-gradient(90deg,#008 0.2%,#017 25.3%,#277 26.6%,#761 29.1%,#611 34.5%,#762 35.8%,#276 38.3%,#474 41.2%,#673 42.9%,#564 43.3%,#114 43.7%,#014 44.1%,#366 44.6%,#465 45.4%,#122 45.8%,#543 46.2%,#475 47.9%,#035 48.7%,#356 49.2%,#741 50.4%,#534 51.3%,#016 52.1%,#268 52.9%,#268 53.3%,#016 53.8%,#115 54.2%,#655 54.6%,#651 55.4%,#474 57.5%,#662 58.4%,#038 60.5%,#048 62.1%,#177 63.4%,#375 68.0%,#474 70.9%,#058 81.8%,#008 99.8%)"></div>
<div style="position:absolute;left:361px;top:202px;width:239px;height:62px;background:linear-gradient(90deg,#008 0.2%,#00f 0.6%,#02f 24.9%,#03e 25.3%,#3ee 26.2%,#9f6 27.4%,#fd0 28.7%,#f40 33.3%,#e30 34.5%,#fb1 35.4%,#e90 36.2%,#be5 37.0%,#5fa 37.9%,#9f7 39.1%,#5fa 40.4%,#df2 42.5%,#ef3 42.9%,#cd7 43.3%,#225 43.7%,#037 44.1%,#8db 44.6%,#8e9 45.0%,#8d9 45.4%,#332 45.8%,#b95 46.2%,#cb3 46.7%,#9f6 47.5%,#9f9 47.9%,#4bb 48.3%,#069 48.7%,#8ca 49.2%,#fc1 50.0%,#e81 50.8%,#c86 51.3%,#338 51.7%,#02a 52.1%,#5de 52.9%,#5ce 53.3%,#03a 53.8%,#237 54.2%,#dc8 54.6%,#ea1 55.0%,#fd1 55.9%,#6f8 57.1%,#de1 58.4%,#ce3 58.8%,#8e8 59.2%,#2bc 59.6%,#07f 60.5%,#08e 62.1%,#1df 62.6%,#4fb 65.5%,#8f7 68.4%,#af5 70.5%,#6f9 72.6%,#0ef 80.1%,#03f 91.8%,#00f 99.4%,#008 99.8%)"></div>
<div style="position:absolute;left:361px;top:264px;width:239px;height:6px;background:linear-gradient(90deg,#008 0.2%,#00f 0.6%,#01f 23.2%,#03e 25.3%,#2ee 26.2%,#7f8 27.0%,#ce5 27.4%,#da1 27.8%,#f60 31.2%,#f10 33.3%,#f71 35.4%,#e20 36.2%,#d30 36.6%,#d94 37.0%,#9d8 37.4%,#5fa 37.9%,#7e8 38.7%,#9d6 39.1%,#5fa 40.4%,#df2 42.5%,#ef3 42.9%,#cd7 43.3%,#225 43.7%,#037 44.1%,#8db 44.6%,#8e9 45.0%,#8d9 45.4%,#332 45.8%,#b95 46.2%,#cb3 46.7%,#9f6 47.5%,#9f9 47.9%,#4bb 48.3%,#069 48.7%,#8ca 49.2%,#ec1 50.0%,#e91 50.8%,#c86 51.3%,#338 51.7%,#02a 52.1%,#5de 52.9%,#5ce 53.3%,#03a 53.8%,#237 54.2%,#dc8 54.6%,#ea1 55.0%,#fd1 55.9%,#6f8 57.1%,#de1 58.4%,#ce3 58.8%,#8e8 59.2%,#2bc 59.6%,#07f 60.5%,#08e 62.1%,#1df 62.6%,#7f8 64.6%,#af5 65.9%,#af5 70.5%,#6f9 72.6%,#6f9 75.1%,#ec1 77.2%,#de3 78.9%,#1ee 80.5%,#07f 86.0%,#00f 99.4%,#008 99.8%)"></div>
<div style="position:absolute;left:361px;top:270px;width:239px;height:11px;background:linear-gradient(90deg,#008 0.2%,#00f 0.6%,#03f 24.9%,#05e 25.3%,#1ef 26.2%,#6f9 27.0%,#ce6 27.4%,#da1 27.8%,#f80 29.5%,#f10 33.3%,#f61 35.4%,#e10 36.2%,#d20 36.6%,#ad8 37.4%,#5ea 37.9%,#4fb 38.3%,#8d6 39.1%,#5fa 40.4%,#df2 42.5%,#ef3 42.9%,#cd7 43.3%,#225 43.7%,#037 44.1%,#8db 44.6%,#8e9 45.0%,#8d9 45.4%,#342 45.8%,#b95 46.2%,#cb4 46.7%,#9f9 47.9%,#4bb 48.3%,#069 48.7%,#5dc 49.2%,#7fa 49.6%,#4da 50.4%,#7dc 51.3%,#15a 51.7%,#03a 52.1%,#5de 52.9%,#5ce 53.3%,#03a 53.8%,#237 54.2%,#dc8 54.6%,#ea1 55.0%,#ed1 55.9%,#6f8 57.1%,#de1 58.4%,#ce3 58.8%,#8e8 59.2%,#2bc 59.6%,#07f 60.5%,#08e 62.1%,#1df 62.6%,#7f8 64.2%,#ef2 65.1%,#ee1 65.9%,#af5 68.0%,#8f7 70.9%,#6f9 73.4%,#ec1 75.5%,#f70 77.6%,#fc1 78.9%,#af5 79.7%,#1de 81.0%,#07f 86.4%,#00f 99.4%,#008 99.8%)"></div>
<div style="position:absolute;left:361px;top:281px;width:239px;height:5px;background:linear-gradient(90deg,#008 0.2%,#00f 0.6%,#02f 19.0%,#05f 24.9%,#0af 25.7%,#2fd 26.6%,#ce6 27.4%,#d91 27.8%,#f70 29.1%,#f40 30.8%,#f10 33.3%,#f61 35.4%,#e10 36.2%,#d10 36.6%,#c52 37.0%,#bd7 37.4%,#5ea 37.9%,#4fb 38.3%,#8d7 39.1%,#5fa 40.4%,#cf3 42.5%,#df4 42.9%,#bd8 43.3%,#136 43.7%,#037 44.1%,#8db 44.6%,#8e9 45.0%,#8d9 45.4%,#242 45.8%,#bc7 46.2%,#9f8 46.7%,#4ea 47.1%,#4fd 47.9%,#1cc 48.7%,#3fc 50.0%,#2ee 51.7%,#1dd 52.5%,#3ed 52.9%,#4df 53.3%,#04b 53.8%,#03b 54.2%,#4be 54.6%,#af6 55.4%,#cf4 55.9%,#6f8 57.1%,#de1 58.4%,#ce3 58.8%,#8e8 59.2%,#2bc 59.6%,#07f 60.5%,#08e 62.1%,#1df 62.6%,#4fa 63.8%,#ee2 65.1%,#fe0 65.9%,#cf3 67.6%,#df3 69.7%,#5f9 71.8%,#6f8 73.0%,#fc0 74.7%,#f60 77.2%,#f90 78.5%,#ee3 79.3%,#1de 81.0%,#06f 87.7%,#00f 99.4%,#008 99.8%)"></div>
<div style="position:absolute;left:361px;top:286px;width:239px;height:7px;background:linear-gradient(90deg,#008 0.2%,#00f 0.6%,#03f 19.0%,#05f 24.5%,#0af 25.7%,#1ee 26.6%,#5ea 27.0%,#be7 27.4%,#d91 27.8%,#f60 29.1%,#f40 30.8%,#f00 32.8%,#f51 35.4%,#e10 36.2%,#d10 36.6%,#c41 37.0%,#bd7 37.4%,#6ea 37.9%,#4fb 38.3%,#8d7 39.1%,#4fa 40.4%,#af6 41.6%,#4eb 42.9%,#4be 43.3%,#03a 43.7%,#038 44.1%,#7dc 44.6%,#7fa 45.0%,#7da 45.4%,#275 45.8%,#7da 46.2%,#1fe 47.5%,#2fe 53.3%,#0be 54.2%,#4eb 55.0%,#bf4 55.9%,#6f8 57.1%,#de1 58.4%,#ce3 58.8%,#8e9 59.2%,#2bc 59.6%,#07f 60.5%,#08e 62.1%,#1df 62.6%,#4fa 63.8%,#ee2 65.1%,#fd0 65.9%,#ef1 67.6%,#fb0 68.8%,#df3 70.1%,#6f9 71.3%,#7f7 72.6%,#ed1 73.8%,#f60 75.9%,#f70 78.0%,#ec1 78.9%,#9f7 79.7%,#1ee 80.5%,#07f 85.6%,#00f 99.4%,#008 99.8%)"></div>
<div style="position:absolute;left:361px;top:293px;width:239px;height:6px;background:linear-gradient(90deg,#008 0.2%,#00f 0.6%,#02f 18.2%,#06f 24.1%,#0ee 26.6%,#3ec 27.0%,#8e8 27.4%,#e70 28.2%,#f00 32.4%,#f51 35.4%,#d00 36.6%,#b30 37.0%,#cc7 37.4%,#6e9 37.9%,#4fb 38.3%,#8d7 39.1%,#4fa 40.4%,#9f6 41.6%,#6fa 42.9%,#3dd 43.3%,#09c 43.7%,#0ad 44.1%,#2ef 44.6%,#2fd 55.4%,#3fb 57.1%,#af6 58.4%,#8e9 58.8%,#06d 59.6%,#07f 61.7%,#08e 62.1%,#1df 62.6%,#5fa 63.8%,#ee2 65.1%,#fd0 65.9%,#ff1 67.6%,#fb0 68.8%,#ef2 70.1%,#7f8 71.3%,#9f6 72.2%,#fb0 73.4%,#f60 75.5%,#f70 78.0%,#fc1 78.9%,#de3 79.3%,#2ee 80.5%,#07f 85.6%,#00f 99.4%,#008 99.8%)"></div>
<div style="position:absolute;left:361px;top:299px;width:239px;height:5px;background:linear-gradient(90deg,#008 0.2%,#00f 0.6%,#02f 18.2%,#07f 24.1%,#0df 26.6%,#1ed 27.0%,#cd6 27.8%,#e91 28.2%,#f50 29.1%,#f00 32.4%,#f30 35.4%,#c00 36.6%,#b30 37.0%,#cd7 37.4%,#6e9 37.9%,#4fb 38.3%,#7f9 39.1%,#2fc 40.4%,#0ff 47.9%,#2fe 58.8%,#07f 60.5%,#09f 61.7%,#1fe 63.0%,#8f7 64.2%,#ed1 65.1%,#fe1 67.6%,#fb0 68.8%,#ef2 70.1%,#9f6 71.3%,#ed1 72.6%,#f60 74.3%,#f70 78.0%,#fb1 78.9%,#de3 79.3%,#2ed 80.5%,#09f 83.9%,#00f 97.7%,#00f 99.4%,#008 99.8%)"></div>
<div style="position:absolute;left:361px;top:304px;width:239px;height:6px;background:linear-gradient(90deg,#008 0.2%,#00f 0.6%,#02f 17.8%,#07f 24.1%,#1dd 27.4%,#ae7 28.2%,#e71 29.1%,#f10 30.3%,#f00 32.4%,#f41 33.3%,#e00 34.5%,#c00 36.6%,#b40 37.0%,#cd8 37.4%,#5ea 37.9%,#1ee 38.7%,#1ef 59.2%,#08f 60.5%,#09e 61.3%,#5fd 62.1%,#1ee 63.0%,#4fb 63.8%,#df4 64.6%,#fc0 65.5%,#fe0 67.6%,#fc0 69.2%,#df2 70.9%,#fc1 72.2%,#f50 73.8%,#f20 75.9%,#f80 78.5%,#ee3 79.3%,#2ed 80.5%,#0bf 81.8%,#01f 95.6%,#00f 99.4%,#008 99.8%)"></div>
<div style="position:absolute;left:361px;top:310px;width:239px;height:5px;background:linear-gradient(90deg,#008 0.2%,#00f 0.6%,#02f 17.4%,#08f 24.1%,#0cf 27.0%,#3dc 28.7%,#ad6 29.5%,#e30 30.8%,#f00 32.4%,#f41 33.3%,#d00 34.5%,#c00 36.6%,#b30 37.0%,#cc8 37.4%,#4ca 37.9%,#1de 38.3%,#1ef 59.2%,#08f 60.5%,#1be 61.7%,#1ee 62.6%,#1ee 63.4%,#9f7 64.2%,#ee4 64.6%,#ea0 65.1%,#f70 65.9%,#fd0 70.1%,#f20 73.8%,#f30 76.4%,#f80 78.5%,#ee3 79.3%,#2ed 80.5%,#0bf 81.8%,#01f 95.6%,#00f 99.4%,#008 99.8%)"></div>
<div style="position:absolute;left:361px;top:315px;width:239px;height:3px;background:linear-gradient(90deg,#008 0.2%,#00f 0.6%,#02f 16.9%,#09f 24.5%,#0cf 27.4%,#1ce 29.5%,#9e8 30.8%,#e61 32.0%,#e30 32.8%,#f41 33.3%,#d00 34.5%,#d00 36.6%,#c30 37.0%,#dc8 37.4%,#4aa 37.9%,#0af 38.7%,#0df 59.2%,#08f 60.5%,#0de 63.4%,#9f7 64.2%,#ed4 64.6%,#e70 65.1%,#f20 65.9%,#f60 70.1%,#f10 74.3%,#f40 76.8%,#f80 78.5%,#ee3 79.3%,#2ed 80.5%,#0af 82.2%,#01f 96.0%,#00f 99.4%,#008 99.8%)"></div>
<div style="position:absolute;left:361px;top:318px;width:239px;height:2px;background:linear-gradient(90deg,#008 0.2%,#00f 0.6%,#02f 16.5%,#09f 24.5%,#0bf 27.8%,#1de 30.8%,#bd6 32.4%,#ea3 33.3%,#d40 34.1%,#d30 36.6%,#b51 37.0%,#cc9 37.4%,#38a 37.9%,#07f 38.7%,#0bf 59.2%,#08f 60.5%,#0ce 63.4%,#3dc 63.8%,#ed4 64.6%,#e60 65.1%,#e20 65.5%,#e00 68.0%,#f30 76.4%,#f80 78.5%,#ee3 79.3%,#2ee 80.5%,#09f 83.1%,#01f 96.9%,#00f 99.4%,#008 99.8%)"></div>
<div style="position:absolute;left:361px;top:320px;width:239px;height:2px;background:linear-gradient(90deg,#008 0.2%,#00f 0.6%,#03f 17.4%,#09f 25.3%,#0bf 29.5%,#2dd 32.4%,#bd6 34.9%,#bc6 36.6%,#6dc 37.4%,#17c 37.9%,#06f 39.1%,#09f 51.7%,#09f 59.6%,#0be 63.4%,#2dc 63.8%,#ed5 64.6%,#e70 65.1%,#d20 65.5%,#d00 69.2%,#f20 75.9%,#f90 78.5%,#ee3 79.3%,#1de 80.5%,#08f 83.5%,#00f 98.1%,#00f 99.4%,#008 99.8%)"></div>
<div style="position:absolute;left:361px;top:322px;width:239px;height:2px;background:linear-gradient(90deg,#008 0.2%,#00f 0.6%,#03f 17.8%,#07f 25.3%,#0bf 27.4%,#2de 37.0%,#05f 38.3%,#05f 48.7%,#09f 57.9%,#0bf 63.4%,#6ea 64.2%,#be7 64.6%,#d40 65.5%,#d10 66.7%,#e30 74.7%,#e90 78.0%,#bf5 79.3%,#1ce 80.5%,#06f 84.7%,#00f 99.4%,#008 99.8%)"></div>
<div style="position:absolute;left:361px;top:324px;width:239px;height:1px;background:linear-gradient(90deg,#008 0.2%,#00e 0.6%,#02f 17.4%,#05f 22.8%,#07f 25.7%,#0bf 27.4%,#0bf 37.0%,#03f 38.7%,#05f 51.3%,#09f 63.4%,#3dd 64.2%,#be7 65.1%,#d71 66.3%,#e81 73.8%,#dd4 78.0%,#4dd 79.7%,#08f 81.0%,#01f 95.2%,#00e 99.4%,#008 99.8%)"></div>
<div style="position:absolute;left:361px;top:325px;width:239px;height:1px;background:linear-gradient(90deg,#008 0.2%,#00e 0.6%,#02f 17.4%,#04f 20.7%,#05f 25.3%,#0bf 27.4%,#0af 37.0%,#02f 38.7%,#07f 63.4%,#3cd 64.6%,#ce6 66.3%,#be6 75.9%,#8f8 78.0%,#1ae 79.7%,#06f 81.4%,#00e 99.4%,#008 99.8%)"></div>
<div style="position:absolute;left:361px;top:326px;width:239px;height:1px;background:linear-gradient(90deg,#008 0.2%,#018 17.8%,#028 25.7%,#058 29.1%,#038 37.4%,#018 40.0%,#038 64.2%,#365 66.7%,#167 78.5%,#028 81.8%,#008 99.8%)"></div>
<div style="position:absolute;left:48px;top:376px;width:238px;height:1px;background:linear-gradient(90deg,#008 0.2%,#027 25.4%,#167 26.3%,#761 28.8%,#711 32.6%,#611 35.1%,#742 35.5%,#611 36.8%,#167 38.0%,#573 41.0%,#474 44.3%,#267 46.0%,#015 46.4%,#114 47.7%,#655 48.1%,#621 48.5%,#632 49.8%,#555 50.2%,#114 50.6%,#015 51.9%,#574 52.7%,#673 53.6%,#465 54.0%,#014 54.4%,#016 55.3%,#376 56.1%,#475 57.4%,#048 59.5%,#276 65.3%,#574 70.8%,#058 81.7%,#008 99.8%)"></div>
<div style="position:absolute;left:48px;top:377px;width:238px;height:64px;background:linear-gradient(90deg,#008 0.2%,#00f 0.6%,#02f 25.0%,#04d 25.4%,#2bf 25.8%,#4fb 26.7%,#fe1 28.4%,#f30 31.3%,#f00 34.7%,#e30 35.1%,#fa2 35.5%,#f91 35.9%,#e30 36.3%,#e20 36.8%,#a43 37.2%,#6aa 37.6%,#3ed 38.0%,#af5 40.1%,#9f6 42.2%,#cf4 43.5%,#4fc 45.6%,#4cd 46.0%,#039 46.4%,#009 47.3%,#326 47.7%,#eb8 48.1%,#d50 48.5%,#e40 49.4%,#d72 49.8%,#bb9 50.2%,#126 50.6%,#009 51.5%,#028 51.9%,#7c9 52.3%,#cf5 52.7%,#ef2 53.2%,#9c8 54.0%,#127 54.4%,#01a 54.8%,#03a 55.3%,#3bd 55.7%,#6fb 56.1%,#8f7 56.9%,#3ed 58.2%,#09f 59.0%,#08f 60.3%,#1fe 62.8%,#3fb 64.9%,#8f7 67.0%,#af5 70.8%,#6f9 72.9%,#0ef 80.0%,#03f 91.8%,#00f 99.4%,#008 99.8%)"></div>
<div style="position:absolute;left:48px;top:441px;width:238px;height:6px;background:linear-gradient(90deg,#008 0.2%,#00f 0.6%,#01f 22.1%,#01f 25.0%,#03d 25.4%,#2bf 25.8%,#5fa 26.7%,#ce4 27.5%,#f90 28.4%,#f20 31.3%,#f41 33.0%,#f00 34.2%,#e20 35.1%,#f62 35.5%,#e10 36.8%,#d30 37.2%,#cb6 37.6%,#6d9 38.0%,#5fa 38.4%,#bf4 40.5%,#9f6 42.2%,#cf4 43.5%,#2fe 45.6%,#2cf 46.0%,#05e 46.4%,#01e 46.8%,#01c 47.3%,#449 47.7%,#d97 48.1%,#e50 48.5%,#d60 49.4%,#cb6 49.8%,#7ab 50.2%,#02a 50.6%,#00b 51.5%,#029 51.9%,#6ba 52.3%,#bf6 52.7%,#df3 53.2%,#bf6 53.6%,#6cb 54.0%,#05b 54.4%,#08f 54.8%,#4fc 56.1%,#4fc 56.9%,#1dc 57.4%,#3ee 58.2%,#09f 59.0%,#08f 60.3%,#1fe 62.8%,#5fa 64.5%,#9f6 65.8%,#af5 70.8%,#6f9 72.9%,#5fa 77.1%,#be4 79.2%,#5fa 80.5%,#0cf 81.7%,#02f 94.7%,#00f 99.4%,#008 99.8%)"></div>
<div style="position:absolute;left:48px;top:447px;width:238px;height:7px;background:linear-gradient(90deg,#008 0.2%,#00f 0.6%,#02f 22.1%,#01f 25.0%,#03d 25.4%,#2bf 25.8%,#5fa 26.7%,#de4 27.5%,#e90 27.9%,#f20 30.0%,#e10 32.1%,#f51 33.0%,#f10 33.8%,#e10 35.1%,#f51 35.5%,#f00 36.8%,#d10 37.2%,#a43 37.6%,#7ca 38.0%,#5ea 38.4%,#bf4 40.5%,#9f6 42.2%,#bf4 43.5%,#1df 46.0%,#08e 46.8%,#18d 47.3%,#4ab 47.7%,#ac8 48.1%,#da3 48.5%,#d91 49.4%,#cd8 49.8%,#58a 50.2%,#02b 50.6%,#00c 51.5%,#02a 51.9%,#5ab 52.3%,#af7 52.7%,#cf4 53.2%,#af7 53.6%,#4cb 54.0%,#08b 54.4%,#2df 54.8%,#3fd 56.5%,#3ee 56.9%,#09b 57.4%,#3de 57.8%,#3ee 58.2%,#09f 59.0%,#08f 60.3%,#1fe 62.8%,#5fa 64.5%,#af5 65.8%,#af5 70.8%,#6f9 72.9%,#6f8 75.4%,#ec1 77.1%,#fa0 78.8%,#ed1 79.6%,#4fc 80.9%,#0bf 82.1%,#01f 95.6%,#00f 99.4%,#008 99.8%)"></div>
<div style="position:absolute;left:48px;top:454px;width:238px;height:8px;background:linear-gradient(90deg,#008 0.2%,#00f 0.6%,#02f 22.1%,#01f 25.0%,#03d 25.4%,#2bf 25.8%,#5fa 26.7%,#ee4 27.5%,#e80 27.9%,#f10 30.0%,#e10 32.1%,#f62 33.0%,#f10 33.8%,#e10 35.1%,#f41 35.5%,#f00 36.8%,#d10 37.2%,#933 37.6%,#8ca 38.0%,#5ea 38.4%,#bf4 40.1%,#8f7 42.2%,#bf5 43.9%,#2fd 45.6%,#3fb 48.5%,#6fa 49.4%,#2cd 50.2%,#05e 51.1%,#04e 51.5%,#06d 51.9%,#5dc 52.3%,#9f6 53.2%,#0cc 54.4%,#3fc 55.7%,#3ee 56.9%,#09b 57.4%,#3ee 57.8%,#3ee 58.2%,#09f 59.0%,#08f 60.3%,#1fe 62.8%,#6f9 64.5%,#bf4 65.8%,#af5 70.8%,#6f9 73.7%,#af5 75.0%,#fb0 76.3%,#f60 78.8%,#eb1 79.6%,#de4 80.0%,#1de 81.3%,#07f 86.3%,#00f 99.4%,#008 99.8%)"></div>
<div style="position:absolute;left:48px;top:462px;width:238px;height:7px;background:linear-gradient(90deg,#008 0.2%,#00f 0.6%,#02f 22.5%,#02f 25.0%,#03d 25.4%,#2bf 25.8%,#4fb 26.7%,#de5 27.5%,#e90 27.9%,#f20 29.6%,#e10 32.1%,#f62 33.0%,#f10 33.8%,#e10 35.1%,#f41 35.5%,#e00 36.8%,#d10 37.2%,#933 37.6%,#8c9 38.0%,#5ea 38.4%,#cf4 39.7%,#7f8 41.8%,#8f7 43.9%,#1fe 45.6%,#2ef 58.2%,#08f 59.9%,#1fd 63.2%,#9f6 64.9%,#ef1 66.2%,#cf3 70.4%,#6f9 72.9%,#af5 74.2%,#fb0 75.4%,#f60 77.5%,#f80 79.2%,#ee3 80.0%,#1de 81.3%,#07f 85.9%,#00f 99.4%,#008 99.8%)"></div>
<div style="position:absolute;left:48px;top:469px;width:238px;height:8px;background:linear-gradient(90deg,#008 0.2%,#00f 0.6%,#04f 24.2%,#06e 25.4%,#1df 26.3%,#2ec 27.1%,#dd5 27.9%,#e81 28.4%,#f30 29.2%,#f10 32.1%,#f51 33.0%,#e00 33.8%,#e10 35.1%,#f31 35.5%,#e00 36.8%,#833 37.6%,#7ca 38.0%,#5eb 38.4%,#8f7 39.3%,#bf5 39.7%,#bf5 40.1%,#5fa 41.4%,#0ff 45.6%,#0ef 59.0%,#08f 60.3%,#0ae 61.6%,#5fc 62.4%,#2fd 63.7%,#ef1 65.8%,#fe0 70.0%,#6f9 72.5%,#ee2 74.2%,#f60 76.3%,#f70 79.2%,#ee3 80.0%,#1ee 81.3%,#07f 85.9%,#00f 99.4%,#008 99.8%)"></div>
<div style="position:absolute;left:48px;top:477px;width:238px;height:6px;background:linear-gradient(90deg,#008 0.2%,#00f 0.6%,#04f 22.1%,#0bf 25.8%,#2ec 27.5%,#cd5 28.4%,#e40 29.2%,#f10 31.3%,#f41 33.0%,#d00 33.8%,#e10 35.9%,#b00 37.2%,#833 37.6%,#6cb 38.0%,#3ed 38.4%,#4fa 39.3%,#6fa 40.1%,#0ee 41.4%,#1ef 59.5%,#08f 60.3%,#09d 61.6%,#8f9 62.4%,#2fd 63.7%,#ff1 65.8%,#fe1 70.4%,#7f8 72.1%,#de3 73.3%,#f60 75.0%,#f50 77.5%,#f70 79.2%,#ee3 80.0%,#1ed 81.3%,#07f 85.9%,#00f 99.4%,#008 99.8%)"></div>
<div style="position:absolute;left:48px;top:483px;width:238px;height:6px;background:linear-gradient(90deg,#008 0.2%,#00f 0.6%,#03f 16.6%,#06f 23.3%,#0df 27.1%,#3ec 28.4%,#bd6 29.2%,#e50 30.0%,#f10 31.7%,#f31 33.0%,#c00 34.2%,#b00 37.2%,#844 37.6%,#6bc 38.0%,#1de 38.4%,#1ef 59.5%,#08f 60.3%,#09e 61.6%,#3fd 62.4%,#1ee 63.7%,#7f8 64.5%,#cf4 64.9%,#fb0 65.8%,#ff0 68.3%,#df2 71.2%,#ee2 72.5%,#f20 75.4%,#f30 77.1%,#f70 79.2%,#ed3 80.0%,#2dd 81.3%,#08f 85.5%,#00f 99.4%,#008 99.8%)"></div>
<div style="position:absolute;left:48px;top:489px;width:238px;height:3px;background:linear-gradient(90deg,#008 0.2%,#00f 0.6%,#02f 16.2%,#06f 22.9%,#0cf 27.1%,#2dd 29.2%,#9e7 30.0%,#e71 30.9%,#e10 31.7%,#f21 33.0%,#c00 35.1%,#b01 37.2%,#734 37.6%,#5ac 38.0%,#1ce 38.4%,#0ef 59.0%,#08f 60.7%,#0de 63.7%,#8f8 64.5%,#dd4 64.9%,#e70 65.3%,#e40 65.8%,#f40 66.6%,#fb0 68.7%,#fc0 71.2%,#f20 74.6%,#f30 77.1%,#fa0 79.6%,#ed3 80.0%,#5fa 80.9%,#0ce 81.7%,#02f 94.7%,#00f 99.4%,#008 99.8%)"></div>
<div style="position:absolute;left:48px;top:492px;width:238px;height:3px;background:linear-gradient(90deg,#008 0.2%,#00f 0.6%,#02f 15.8%,#06f 22.5%,#0cf 26.7%,#1dd 30.0%,#8e9 30.9%,#d93 31.7%,#d10 33.4%,#c10 37.2%,#824 37.6%,#57b 38.0%,#19e 38.4%,#0cf 59.0%,#08f 60.7%,#0ce 63.7%,#7e9 64.5%,#dd5 64.9%,#e60 65.3%,#e20 65.8%,#e20 67.9%,#f60 70.8%,#f10 74.6%,#f30 77.1%,#ea0 79.6%,#ed3 80.0%,#5ea 80.9%,#0ce 81.7%,#01f 95.2%,#00f 99.4%,#008 99.8%)"></div>
<div style="position:absolute;left:48px;top:495px;width:238px;height:2px;background:linear-gradient(90deg,#008 0.2%,#00f 0.6%,#03f 16.2%,#06f 23.3%,#0bf 27.5%,#1ce 30.9%,#ae8 32.6%,#d82 34.2%,#d72 37.2%,#a86 37.6%,#06e 38.4%,#09f 50.6%,#09f 59.9%,#0be 63.7%,#2dd 64.1%,#de6 64.9%,#e71 65.3%,#d20 65.8%,#d00 68.3%,#f20 76.7%,#f70 79.2%,#ee3 80.0%,#5eb 80.9%,#0bf 81.7%,#02f 94.3%,#00f 99.4%,#008 99.8%)"></div>
<div style="position:absolute;left:48px;top:497px;width:238px;height:1px;background:linear-gradient(90deg,#008 0.2%,#00f 0.6%,#05f 22.5%,#0bf 28.4%,#1ce 32.1%,#9e8 34.7%,#9e9 37.2%,#8db 37.6%,#28c 38.0%,#05f 39.3%,#07f 51.1%,#0bf 63.7%,#5eb 64.5%,#be7 64.9%,#d40 65.8%,#d10 66.6%,#e20 75.4%,#e90 79.2%,#cf5 80.0%,#1ce 81.3%,#06f 85.1%,#00f 99.4%,#008 99.8%)"></div>
<div style="position:absolute;left:48px;top:498px;width:238px;height:1px;background:linear-gradient(90deg,#008 0.2%,#00f 0.6%,#05f 24.2%,#0bf 28.4%,#1dd 33.4%,#4ec 37.2%,#3de 37.6%,#05e 38.4%,#04f 46.8%,#08f 59.5%,#1be 64.1%,#8e9 64.9%,#cd6 65.3%,#d81 65.8%,#d40 66.6%,#e40 73.7%,#dc2 79.2%,#9f7 80.0%,#3de 80.9%,#08f 82.6%,#01f 96.4%,#00f 99.4%,#008 99.8%)"></div>
<div style="position:absolute;left:48px;top:499px;width:238px;height:1px;background:linear-gradient(90deg,#008 0.2%,#00e 0.6%,#04f 25.0%,#0bf 27.9%,#1af 37.6%,#04f 38.9%,#04f 50.6%,#08e 64.1%,#4dc 64.9%,#ce6 65.8%,#ea3 67.4%,#ec3 75.0%,#ce5 78.8%,#3cd 80.5%,#06f 82.1%,#00e 98.9%,#00e 99.4%,#008 99.8%)"></div>
<div style="position:absolute;left:48px;top:500px;width:238px;height:1px;background:linear-gradient(90deg,#008 0.2%,#028 25.8%,#058 28.8%,#038 38.0%,#018 41.4%,#037 64.5%,#564 66.2%,#474 78.4%,#028 81.7%,#008 99.8%)"></div>
<div style="position:absolute;left:361px;top:376px;width:239px;height:1px;background:linear-gradient(90deg,#008 0.2%,#028 25.3%,#167 26.6%,#751 28.2%,#742 32.8%,#701 33.7%,#611 36.2%,#772 37.4%,#266 39.1%,#662 42.9%,#366 45.4%,#015 45.8%,#114 46.7%,#664 47.1%,#741 48.3%,#631 50.0%,#664 50.4%,#356 50.8%,#015 51.3%,#015 52.1%,#455 52.5%,#761 53.8%,#573 55.4%,#177 57.1%,#037 58.4%,#276 60.0%,#177 64.2%,#573 66.3%,#474 73.0%,#068 81.0%,#008 99.8%)"></div>
<div style="position:absolute;left:361px;top:377px;width:239px;height:70px;background:linear-gradient(90deg,#008 0.2%,#00f 0.6%,#02f 24.9%,#04e 25.3%,#1df 26.2%,#6f9 27.0%,#ee2 27.8%,#f90 28.7%,#fa1 32.4%,#f81 32.8%,#e20 33.3%,#f00 35.8%,#e10 36.2%,#fc1 37.0%,#ef2 37.9%,#3ea 39.1%,#9f6 41.2%,#ee2 42.1%,#ec0 42.5%,#ee2 42.9%,#7f8 44.1%,#6dc 45.4%,#039 45.8%,#019 46.2%,#346 46.7%,#dd7 47.1%,#fd2 47.5%,#f90 48.3%,#f80 49.6%,#d70 50.0%,#dd6 50.4%,#7cb 50.8%,#03a 51.3%,#01a 51.7%,#038 52.1%,#8c9 52.5%,#cf5 52.9%,#fd0 53.8%,#fc0 54.6%,#cf4 55.4%,#3fc 56.7%,#2df 57.5%,#08e 57.9%,#06e 58.4%,#08e 58.8%,#2df 59.2%,#5fa 60.9%,#1fe 63.8%,#af5 65.5%,#af5 72.6%,#6f9 74.7%,#3fc 77.2%,#0ff 79.3%,#02f 93.5%,#00f 99.4%,#008 99.8%)"></div>
<div style="position:absolute;left:361px;top:447px;width:239px;height:9px;background:linear-gradient(90deg,#008 0.2%,#00f 0.6%,#02f 24.9%,#04e 25.3%,#1df 26.2%,#6f9 27.0%,#ed2 27.8%,#f80 28.7%,#f51 32.8%,#e10 33.3%,#f10 36.6%,#f70 37.4%,#bf6 38.3%,#5e9 38.7%,#3fc 39.5%,#7f8 41.6%,#ac3 42.5%,#ae6 42.9%,#4fb 44.1%,#3ed 45.4%,#0ad 45.8%,#1ac 46.2%,#6ea 46.7%,#ee2 47.5%,#fa0 48.7%,#ed1 49.6%,#3ec 50.8%,#0de 51.7%,#ef2 53.8%,#ec0 54.6%,#ec0 55.0%,#df3 55.4%,#4fa 56.3%,#1ef 57.5%,#08d 58.4%,#1ef 59.2%,#2fd 63.4%,#af5 65.1%,#af5 72.6%,#6f9 74.7%,#0df 81.0%,#02f 94.4%,#00f 99.4%,#008 99.8%)"></div>
<div style="position:absolute;left:361px;top:456px;width:239px;height:5px;background:linear-gradient(90deg,#008 0.2%,#00f 0.6%,#02f 24.9%,#04e 25.3%,#1cf 26.2%,#6f9 27.0%,#ec2 27.8%,#e80 28.2%,#f41 32.8%,#e00 33.7%,#e10 37.0%,#e92 37.9%,#ce6 38.3%,#6e9 38.7%,#3fc 39.5%,#5fa 41.6%,#9c5 42.5%,#9e7 42.9%,#4fb 43.7%,#1dd 45.8%,#1dc 46.2%,#df3 47.5%,#fc0 48.7%,#df4 49.6%,#4fb 50.4%,#2fd 51.3%,#9f6 53.3%,#ed0 54.6%,#ed1 55.0%,#cf4 55.4%,#4fb 56.3%,#1ef 57.9%,#0ad 58.4%,#1de 58.8%,#5fa 60.0%,#2fd 62.6%,#4fa 63.8%,#af5 65.1%,#af5 72.6%,#6f9 74.3%,#9f6 76.8%,#ce3 78.5%,#7f8 79.7%,#0de 81.0%,#03f 91.0%,#00f 99.4%,#008 99.8%)"></div>
<div style="position:absolute;left:361px;top:461px;width:239px;height:7px;background:linear-gradient(90deg,#008 0.2%,#00f 0.6%,#02f 17.8%,#03e 25.3%,#1cf 26.2%,#7f9 27.0%,#eb2 27.8%,#f60 28.7%,#f41 32.8%,#e00 33.7%,#e00 37.0%,#e20 37.4%,#d71 37.9%,#cd6 38.3%,#4fb 39.1%,#4fb 41.6%,#8c5 42.5%,#8e8 42.9%,#3fc 43.7%,#2fd 46.2%,#ef2 47.9%,#fd0 48.7%,#bf5 49.6%,#4fb 50.4%,#3fb 52.1%,#bf4 54.2%,#df2 55.0%,#3fc 56.7%,#1ef 57.9%,#0bd 58.4%,#6ea 59.2%,#cf3 60.0%,#3fc 61.7%,#4fa 63.8%,#af5 65.1%,#bf5 72.6%,#8f7 74.3%,#ed1 76.8%,#fa0 78.5%,#cf4 79.7%,#1ee 81.0%,#07f 86.4%,#00f 99.4%,#008 99.8%)"></div>
<div style="position:absolute;left:361px;top:468px;width:239px;height:7px;background:linear-gradient(90deg,#008 0.2%,#00f 0.6%,#02f 16.9%,#04e 25.3%,#3ed 26.6%,#ce5 27.4%,#e60 28.2%,#f30 32.8%,#d00 34.1%,#d10 37.4%,#d61 37.9%,#cd6 38.3%,#4fb 39.1%,#3fc 41.2%,#8d6 42.5%,#8e8 42.9%,#3fc 43.7%,#4fb 47.1%,#df2 48.3%,#bf4 49.2%,#3fc 50.4%,#5fa 53.8%,#af5 54.6%,#af5 55.0%,#3fc 56.3%,#1ef 57.9%,#0bd 58.4%,#2bc 58.8%,#8d9 59.2%,#cb3 59.6%,#ea1 60.0%,#db2 60.5%,#6f9 61.3%,#3fc 63.0%,#7f8 64.2%,#cf3 65.5%,#df2 74.7%,#f60 78.0%,#ec1 79.3%,#8f7 80.1%,#1ee 81.0%,#07f 86.0%,#00f 99.4%,#008 99.8%)"></div>
<div style="position:absolute;left:361px;top:475px;width:239px;height:7px;background:linear-gradient(90deg,#008 0.2%,#00f 0.6%,#02f 16.5%,#04f 24.5%,#08f 25.7%,#2dd 26.6%,#be6 27.4%,#ea1 27.8%,#e50 28.2%,#f20 32.8%,#d00 35.8%,#c10 37.4%,#c40 37.9%,#dd6 38.3%,#4fb 39.1%,#5fa 41.2%,#ae6 42.5%,#3fc 43.7%,#4fb 47.5%,#6f9 48.7%,#2fd 50.8%,#4fb 54.2%,#3fc 55.4%,#1ef 57.9%,#1bc 58.8%,#7ca 59.2%,#b83 59.6%,#e70 60.0%,#d81 60.5%,#be6 60.9%,#6e9 61.3%,#2fd 62.1%,#4fb 63.8%,#df2 65.5%,#fd1 74.3%,#f60 76.8%,#f70 78.5%,#fb1 79.3%,#de3 79.7%,#2ee 81.0%,#08f 85.6%,#00f 99.4%,#008 99.8%)"></div>
<div style="position:absolute;left:361px;top:482px;width:239px;height:4px;background:linear-gradient(90deg,#008 0.2%,#00f 0.6%,#02f 16.1%,#05f 24.1%,#0de 26.6%,#7e9 27.4%,#cd5 27.8%,#e70 28.2%,#f30 29.1%,#e10 32.8%,#c00 35.4%,#c00 37.4%,#b30 37.9%,#dc6 38.3%,#3fc 39.1%,#4fb 40.8%,#9f8 42.5%,#2fd 43.7%,#1ef 57.9%,#1cd 58.8%,#7cb 59.2%,#a74 59.6%,#d50 60.0%,#d70 60.5%,#cd7 60.9%,#5ea 61.3%,#1fe 62.1%,#3fb 63.8%,#ee2 65.1%,#fc0 67.2%,#fe1 72.2%,#f60 75.9%,#f70 78.5%,#fb0 79.3%,#ee3 79.7%,#2ee 81.0%,#08f 84.7%,#00f 98.5%,#00f 99.4%,#008 99.8%)"></div>
<div style="position:absolute;left:361px;top:486px;width:239px;height:4px;background:linear-gradient(90deg,#008 0.2%,#00f 0.6%,#02f 15.7%,#05f 23.6%,#0de 27.0%,#2ec 27.4%,#cc4 28.2%,#e81 28.7%,#f30 29.9%,#e10 32.8%,#c00 35.4%,#c00 37.4%,#b41 37.9%,#bc8 38.3%,#2ed 39.1%,#1ee 41.2%,#2ee 42.9%,#1de 58.8%,#6cb 59.2%,#963 59.6%,#d40 60.0%,#c60 60.5%,#bd7 60.9%,#4ea 61.3%,#0ff 62.1%,#1fe 63.4%,#7f8 64.2%,#ce4 64.6%,#f90 65.5%,#f90 69.2%,#fa0 71.8%,#f40 75.5%,#f80 78.9%,#ee3 79.7%,#2ed 81.0%,#09f 83.9%,#00f 98.1%,#00f 99.4%,#008 99.8%)"></div>
<div style="position:absolute;left:361px;top:490px;width:239px;height:3px;background:linear-gradient(90deg,#008 0.2%,#00f 0.6%,#02f 15.7%,#05f 23.6%,#0df 26.6%,#2dd 27.8%,#be6 28.7%,#e70 29.5%,#f10 32.0%,#c00 36.2%,#c10 37.4%,#a42 37.9%,#9c9 38.3%,#5ec 38.7%,#1cd 39.1%,#0bf 41.6%,#1de 58.8%,#cb3 60.0%,#bc4 60.5%,#2ec 61.3%,#0ef 62.1%,#0ee 63.4%,#7e8 64.2%,#de5 64.6%,#e91 65.1%,#f30 65.9%,#f40 71.8%,#f10 75.5%,#f80 78.9%,#ee3 79.7%,#2dd 81.0%,#08f 85.1%,#00f 99.0%,#00f 99.4%,#008 99.8%)"></div>
<div style="position:absolute;left:361px;top:493px;width:239px;height:2px;background:linear-gradient(90deg,#008 0.2%,#00f 0.6%,#02f 15.7%,#05f 23.6%,#1ff 26.2%,#0be 27.8%,#4ec 28.7%,#cd5 29.5%,#e60 30.8%,#d00 33.3%,#c10 37.4%,#a63 37.9%,#8ca 38.3%,#4de 38.7%,#09d 39.1%,#08f 42.9%,#0cf 58.8%,#4ec 60.0%,#0cf 62.1%,#0de 63.4%,#7e9 64.2%,#dd5 64.6%,#e81 65.1%,#e10 65.9%,#f20 75.9%,#f80 78.9%,#ee3 79.7%,#1de 81.0%,#05f 88.9%,#00f 99.4%,#008 99.8%)"></div>
<div style="position:absolute;left:361px;top:495px;width:239px;height:1px;background:linear-gradient(90deg,#008 0.2%,#00f 0.6%,#02f 15.3%,#05f 23.6%,#1ef 25.7%,#0bf 28.2%,#6ea 29.5%,#de5 30.3%,#e60 32.0%,#e30 34.9%,#c50 37.4%,#6da 38.3%,#3df 38.7%,#08e 39.1%,#08f 52.9%,#0cf 63.4%,#6ea 64.2%,#ce6 64.6%,#e91 65.1%,#e10 65.9%,#f20 75.9%,#f80 78.9%,#ee3 79.7%,#1de 81.0%,#06f 86.8%,#00f 99.4%,#008 99.8%)"></div>
<div style="position:absolute;left:361px;top:496px;width:239px;height:1px;background:linear-gradient(90deg,#008 0.2%,#00f 0.6%,#03f 15.7%,#05f 23.6%,#0df 26.2%,#0bf 28.2%,#2dd 29.5%,#dd5 31.6%,#e92 34.1%,#db3 37.4%,#bd7 37.9%,#2be 38.7%,#07e 39.1%,#08f 56.7%,#1ce 63.8%,#be7 64.6%,#e50 65.5%,#d00 66.3%,#f20 75.9%,#e90 78.9%,#df4 79.7%,#1ce 81.0%,#06f 85.6%,#00f 99.4%,#008 99.8%)"></div>
<div style="position:absolute;left:361px;top:497px;width:239px;height:1px;background:linear-gradient(90deg,#008 0.2%,#00f 0.6%,#03f 15.7%,#06f 24.1%,#0cf 26.2%,#0be 29.5%,#ae7 32.4%,#ce6 35.8%,#ae7 37.4%,#4dd 38.3%,#08d 38.7%,#05f 39.5%,#0af 63.4%,#3dc 64.2%,#dd5 65.1%,#d71 65.5%,#d10 66.3%,#e20 74.7%,#e90 78.5%,#dd3 79.3%,#6f9 80.1%,#0be 81.0%,#05f 86.0%,#00f 99.4%,#008 99.8%)"></div>
<div style="position:absolute;left:361px;top:498px;width:239px;height:1px;background:linear-gradient(90deg,#008 0.2%,#00f 0.6%,#03f 16.1%,#06f 24.5%,#0af 27.0%,#2dd 31.2%,#7e9 35.4%,#4ed 37.9%,#3cf 38.3%,#06d 38.7%,#04f 40.4%,#0af 63.8%,#5db 64.6%,#dc4 65.5%,#d50 66.3%,#e40 72.6%,#dc2 78.5%,#bf6 79.3%,#1ce 80.5%,#07f 82.2%,#00f 97.3%,#00f 99.4%,#008 99.8%)"></div>
<div style="position:absolute;left:361px;top:499px;width:239px;height:1px;background:linear-gradient(90deg,#008 0.2%,#00e 0.6%,#02f 15.3%,#06f 25.3%,#0af 27.8%,#1bd 37.0%,#19f 38.3%,#03f 39.1%,#07f 63.8%,#2bd 64.6%,#9e8 65.5%,#dc4 66.3%,#ea3 72.2%,#ce5 78.0%,#4dc 79.7%,#07f 81.0%,#01f 94.4%,#00e 99.4%,#008 99.8%)"></div>
<div style="position:absolute;left:361px;top:500px;width:239px;height:1px;background:linear-gradient(90deg,#008 0.2%,#038 26.2%,#048 34.5%,#018 39.1%,#047 64.6%,#564 66.3%,#474 77.6%,#047 80.1%,#008 99.8%)"></div></div><div id="plots"></div>
<div class="cb"></div>
<div id="labels"></div>
<script>
var P=[{"b":[48,25,283,150],"r":[[25,[[48,0.11],[55,0.12],[84,0.13],[92,0.15],[100,0.14],[107.6,0.13],[108.4,0.45],[110,0.55],[113,0.62],[117,0.65],[121,0.67],[125,0.65],[128,0.62],[131,0.55],[134.4,0.5],[135.1,0.29],[136,0.29],[136.6,0.45],[138,0.52],[139.4,0.5],[140,0.27],[141,0.27],[141.6,0.38],[145,0.38],[146.5,0.5],[148,0.45],[155,0.45],[157,0.55],[159,0.62],[162,0.69],[164.5,0.67],[165.5,0.72],[167.5,0.76],[169,0.72],[170,0.65],[172,0.62],[177,0.55],[184,0.52],[185.5,0.45],[186.3,0.2],[187.2,0.2],[188,0.58],[189.3,0.55],[190,0.28],[191,0.24],[195,0.26],[196.5,0.4],[198,0.5],[201,0.58],[205,0.6],[212,0.57],[218,0.52],[225,0.45],[229,0.39],[233,0.36],[238,0.31],[243,0.28],[250,0.25],[258,0.21],[266,0.17],[275,0.15],[283,0.13]]],[80,[[48,0.11],[55,0.12],[84,0.13],[92,0.15],[100,0.14],[107.6,0.13],[108.4,0.45],[110,0.55],[113,0.62],[117,0.65],[121,0.67],[125,0.65],[128,0.62],[131,0.55],[134.4,0.5],[135.1,0.29],[136,0.29],[136.6,0.45],[138,0.52],[139.4,0.5],[140,0.27],[141,0.27],[141.6,0.38],[145,0.38],[146.5,0.5],[148,0.45],[155,0.45],[157,0.55],[159,0.62],[162,0.69],[164.5,0.67],[165.5,0.72],[167.5,0.76],[169,0.72],[170,0.65],[172,0.62],[177,0.55],[184,0.52],[185.5,0.45],[186.3,0.2],[187.2,0.2],[188,0.58],[189.3,0.55],[190,0.28],[191,0.24],[195,0.26],[196.5,0.4],[198,0.5],[201,0.58],[205,0.6],[212,0.57],[218,0.52],[225,0.45],[229,0.39],[233,0.36],[238,0.31],[243,0.28],[250,0.25],[258,0.21],[266,0.17],[275,0.15],[283,0.13]]],[100,[[48,0.11],[55,0.12],[84,0.13],[92,0.15],[100,0.14],[107.6,0.14],[108.4,0.5],[110,0.58],[113,0.64],[118,0.7],[122,0.72],[127,0.7],[131,0.64],[134.4,0.55],[135.1,0.29],[136,0.29],[136.6,0.45],[138,0.52],[139.4,0.5],[140,0.27],[141,0.27],[141.6,0.38],[145,0.38],[146.5,0.5],[148,0.45],[155,0.45],[157,0.55],[159,0.62],[162,0.69],[164.5,0.67],[165.5,0.72],[167.5,0.76],[169,0.72],[170,0.65],[172,0.62],[177,0.55],[184,0.52],[185.5,0.45],[186.3,0.2],[187.2,0.2],[188,0.58],[189.3,0.55],[190,0.28],[191,0.24],[195,0.26],[196,0.42],[198,0.5],[200,0.6],[212,0.6],[215,0.56],[218,0.48],[224,0.44],[228,0.46],[231,0.5],[233,0.45],[235,0.38],[241,0.3],[243,0.28],[250,0.25],[258,0.21],[266,0.17],[275,0.15],[283,0.13]]],[106,[[48,0.11],[55,0.12],[84,0.13],[92,0.15],[100,0.15],[107.6,0.16],[108.4,0.5],[110,0.6],[113,0.67],[118,0.73],[122,0.76],[127,0.76],[131,0.72],[134.4,0.6],[135.1,0.29],[136,0.29],[136.6,0.45],[138,0.52],[139.4,0.5],[140,0.27],[141,0.27],[141.6,0.38],[145,0.38],[146.5,0.5],[148,0.45],[155,0.42],[158,0.45],[159,0.6],[160,0.5],[161.5,0.7],[163,0.55],[164,0.62],[165.5,0.72],[167.5,0.74],[168.5,0.6],[169.5,0.3],[171,0.2],[172,0.5],[174,0.45],[177,0.55],[184,0.52],[185.5,0.45],[186.3,0.2],[187.2,0.2],[188,0.58],[189.3,0.55],[190,0.28],[191,0.24],[195,0.26],[196,0.42],[198,0.5],[200,0.6],[212,0.6],[216,0.58],[224,0.58],[228,0.55],[232,0.45],[235,0.38],[241,0.3],[243,0.28],[250,0.25],[258,0.21],[266,0.17],[275,0.15],[283,0.13]]],[120,[[48,0.11],[55,0.12],[84,0.13],[92,0.15],[100,0.16],[107.6,0.2],[108.4,0.52],[110,0.62],[113,0.7],[118,0.76],[123,0.8],[128,0.84],[132,0.86],[134.4,0.7],[135.1,0.3],[136,0.4],[138.2,0.5],[138.8,0.72],[139.4,0.5],[141,0.4],[156,0.4],[159.5,0.42],[160.2,0.6],[161,0.42],[162,0.45],[162.8,0.68],[163.6,0.45],[164.8,0.5],[165.6,0.66],[166.4,0.45],[167.5,0.45],[168.2,0.62],[169,0.4],[169.6,0.1],[171.4,0.1],[172,0.42],[180,0.42],[186,0.42],[186.5,0.25],[187.5,0.25],[188.5,0.5],[189.5,0.3],[191,0.27],[195,0.3],[195.5,0.4],[196.5,0.72],[197.5,0.4],[199,0.5],[199.5,0.55],[212,0.62],[216,0.6],[224,0.6],[228,0.58],[232,0.5],[235,0.38],[241,0.3],[243,0.28],[250,0.25],[258,0.21],[266,0.17],[275,0.15],[283,0.13]]],[135,[[48,0.11],[55,0.12],[84,0.13],[92,0.15],[100,0.2],[107.6,0.28],[108.4,0.5],[112,0.68],[116,0.76],[121,0.82],[126,0.88],[130,0.92],[133,0.92],[134.8,0.8],[135.5,0.35],[136,0.29],[136.5,0.4],[138.5,0.45],[139,0.6],[139.5,0.45],[141,0.4],[158,0.4],[161,0.5],[164,0.55],[167,0.55],[170,0.45],[180,0.4],[186,0.38],[191,0.33],[195,0.33],[195.5,0.35],[196.5,0.62],[197.5,0.36],[199.5,0.4],[200,0.42],[235,0.4],[241,0.31],[243,0.28],[250,0.25],[258,0.21],[266,0.17],[275,0.15],[283,0.13]]],[141,[[48,0.11],[55,0.12],[84,0.13],[92,0.15],[100,0.22],[108,0.3],[113,0.6],[118,0.78],[124,0.86],[130,0.92],[133.5,0.9],[135,0.7],[136,0.3],[136.6,0.45],[137,0.33],[145,0.32],[165,0.3],[170,0.34],[178,0.36],[185,0.38],[191,0.35],[195,0.35],[235,0.34],[241,0.3],[243,0.28],[250,0.25],[258,0.21],[266,0.17],[275,0.15],[283,0.13]]],[145,[[48,0.11],[55,0.12],[84,0.13],[92,0.15],[100,0.22],[108,0.3],[113,0.5],[118,0.75],[124,0.84],[130,0.88],[133.5,0.86],[135,0.6],[136,0.3],[136.6,0.45],[137,0.24],[145,0.22],[165,0.22],[170,0.28],[178,0.32],[185,0.36],[191,0.34],[195,0.34],[235,0.33],[241,0.3],[243,0.28],[250,0.25],[258,0.21],[266,0.17],[275,0.15],[283,0.13]]],[147.5,[[48,0.12],[100,0.18],[108,0.28],[115,0.33],[120,0.5],[128,0.55],[134,0.45],[136,0.3],[145,0.2],[165,0.2],[170,0.25],[178,0.3],[186,0.34],[233,0.33],[240,0.3],[250,0.22],[283,0.13]]],[150,[[48,0.1],[100,0.12],[120,0.2],[136,0.14],[170,0.14],[186,0.2],[200,0.2],[220,0.22],[240,0.2],[283,0.1]]]],"p":[[0.16,0.17,[[88,40],[91.5,40],[103,150],[79,150]]],[0.32,0.26,[[107.5,112],[108.4,112],[109.5,120],[111,127],[113,131.5],[115.5,136],[118,140.5],[121,143.5],[125,145.7],[133,146.5],[136,146.5],[136,151],[107.5,151]],1],[0.6,0.6,[[199.5,80],[199.5,140],[200.5,145],[202,147.6],[232.5,147.6],[234.5,145],[235,98],[234,92],[232,89],[229.5,88.5],[227,91],[224,98],[222,108],[220.5,118],[219.5,121],[218.5,115],[218,100],[217,88],[215,80]]],[0.68,0.68,[[200.5,118],[200.5,140],[201.5,145],[203,147],[231.5,147],[233.5,145],[233.8,100],[232.5,94],[230.5,93],[228,97],[225,105],[222.5,115],[221,122],[219.5,126],[218,118],[216,104],[212,101],[207,104],[203,110]]],[0.72,0.72,[[201,124],[201,140],[202,145],[204,146.7],[230.5,146.7],[232.8,144],[233,106],[231.8,100],[230,100],[227,106],[223.5,116],[221.5,124],[220,129],[218,124],[215,112],[211,109],[206,113],[203,119]]],[0.78,0.78,[[201.3,128],[201.3,141],[203,145.5],[206,146.5],[229,146.5],[232,143],[232,118],[230.5,114],[227.5,120],[224,130],[221,135],[217,131],[212,126],[206,126]]],[0.86,0.86,[[201.5,132],[201.8,143],[204,146.3],[223,146.3],[226,144],[225,139],[219,138],[211,134]]],[0.92,0.92,[[203,139],[203.5,145],[206,146.5],[218,146.5],[220,144],[216,141],[208,139.5]]]],"s":3},{"b":[361,27,600,152],"r":[[27,[[361,0.12],[389,0.12],[390.5,0.14],[411,0.14],[412,0.13],[422,0.13],[423,0.3],[424,0.4],[425.5,0.52],[427,0.6],[430,0.63],[433,0.66],[436,0.7],[438,0.74],[441,0.74],[442.5,0.64],[444,0.52],[447,0.5],[448.5,0.6],[450,0.72],[452.5,0.73],[453.3,0.6],[454,0.33],[455,0.4],[456.5,0.42],[457.4,0.6],[458.5,0.53],[459.8,0.5],[460.5,0.6],[463,0.6],[463.8,0.5],[467,0.5],[468,0.58],[468.7,0.3],[469.5,0.1],[470.2,0.22],[471,0.25],[471.6,0.5],[473.5,0.5],[474.2,0.06],[475.8,0.06],[476.3,0.72],[477,0.72],[477.6,0.05],[479.7,0.05],[480.3,0.74],[481.7,0.74],[482.3,0.25],[483,0.25],[483.6,0.45],[484.3,0.4],[485,0.04],[487.6,0.04],[488.2,0.72],[489.6,0.72],[490.2,0.08],[491,0.08],[491.6,0.5],[494.2,0.5],[494.9,0.25],[496.4,0.25],[497,0.55],[500,0.57],[500.8,0.15],[501.8,0.15],[502.5,0.57],[505.5,0.55],[506.3,0.2],[507,0.2],[507.6,0.24],[510.5,0.22],[511.5,0.38],[513.3,0.55],[515,0.62],[517,0.58],[522,0.54],[531,0.5],[537,0.45],[543,0.4],[550,0.37],[555,0.32],[560,0.27],[568,0.2],[575,0.16],[585,0.13],[600,0.12]]],[80,[[361,0.12],[389,0.12],[390.5,0.14],[411,0.14],[412,0.13],[422,0.13],[423.5,0.35],[425,0.52],[426,0.6],[432,0.64],[433,0.72],[446,0.74],[447,0.64],[449.5,0.6],[450.5,0.5],[451,0.72],[453,0.72],[454,0.45],[455,0.4],[456.5,0.42],[457.4,0.6],[458.5,0.53],[459.8,0.5],[460.5,0.6],[463,0.6],[463.8,0.5],[467,0.5],[468,0.58],[468.7,0.3],[469.5,0.1],[470.2,0.22],[471,0.25],[471.6,0.5],[473.5,0.5],[474.2,0.06],[475.8,0.06],[476.3,0.72],[477,0.72],[477.6,0.05],[479.7,0.05],[480.3,0.74],[481.7,0.74],[482.3,0.25],[483,0.25],[483.6,0.45],[484.3,0.4],[485,0.04],[487.6,0.04],[488.2,0.72],[489.6,0.72],[490.2,0.08],[491,0.08],[491.6,0.5],[494.2,0.5],[494.9,0.25],[496.4,0.25],[497,0.55],[500,0.57],[500.8,0.15],[501.8,0.15],[502.5,0.57],[505.5,0.55],[506.3,0.2],[507,0.2],[507.6,0.24],[510.5,0.22],[511.5,0.38],[513.3,0.55],[515,0.62],[517,0.58],[522,0.54],[531,0.5],[537,0.45],[543,0.4],[550,0.37],[555,0.32],[560,0.27],[568,0.2],[575,0.16],[585,0.13],[600,0.12]]],[112,[[361,0.12],[389,0.12],[390.5,0.14],[411,0.14],[412,0.13],[422,0.14],[424,0.33],[425.5,0.55],[427,0.63],[431,0.66],[433,0.72],[440,0.76],[444,0.78],[446,0.76],[448,0.68],[449.5,0.62],[450.5,0.5],[451.5,0.7],[453.5,0.7],[454.5,0.42],[455,0.4],[456.5,0.42],[457.4,0.6],[458.5,0.53],[459.8,0.5],[460.5,0.6],[463,0.6],[463.8,0.5],[467,0.5],[468,0.58],[468.7,0.3],[469.5,0.1],[470.2,0.22],[471,0.25],[471.6,0.5],[473.5,0.5],[474.2,0.06],[475.8,0.06],[476.3,0.72],[477,0.72],[477.6,0.05],[479.7,0.05],[480.3,0.74],[481.7,0.74],[482.3,0.25],[483,0.25],[483.6,0.45],[484.3,0.4],[485,0.04],[487.6,0.04],[488.2,0.72],[489.6,0.72],[490.2,0.08],[491,0.08],[491.6,0.5],[494.2,0.5],[494.9,0.25],[496.4,0.25],[497,0.55],[500,0.57],[500.8,0.15],[501.8,0.15],[502.5,0.57],[505.5,0.55],[506.3,0.2],[507,0.2],[507.6,0.24],[510.5,0.22],[511.5,0.45],[512.5,0.7],[515,0.7],[516,0.55],[520,0.58],[530,0.55],[545,0.5],[552,0.45],[556,0.35],[561,0.27],[568,0.2],[575,0.16],[585,0.13],[600,0.12]]],[128,[[361,0.12],[389,0.12],[390.5,0.14],[405,0.14],[420,0.18],[424,0.32],[425.5,0.56],[427,0.64],[431,0.7],[434,0.75],[440,0.8],[443,0.85],[447,0.9],[449,0.86],[449.8,0.5],[451,0.42],[452,0.66],[453,0.42],[454.5,0.42],[454.6,0.42],[470,0.42],[478,0.4],[479,0.12],[482,0.12],[483,0.4],[500,0.42],[502,0.15],[504,0.15],[505,0.3],[506,0.26],[510.5,0.26],[511,0.3],[512,0.72],[515,0.6],[550,0.55],[552,0.5],[556,0.34],[561,0.27],[568,0.2],[575,0.16],[585,0.13],[600,0.12]]],[140,[[361,0.12],[389,0.12],[390.5,0.14],[405,0.15],[415,0.21],[424,0.33],[427,0.6],[430,0.72],[434,0.8],[440,0.86],[444,0.92],[449,0.9],[449.8,0.45],[450.5,0.35],[450.6,0.36],[470,0.36],[480,0.38],[506,0.37],[507,0.28],[510,0.3],[510.1,0.32],[512.5,0.6],[515,0.4],[552,0.4],[556,0.33],[561,0.26],[568,0.2],[575,0.16],[585,0.13],[600,0.12]]],[147,[[361,0.12],[389,0.12],[390.5,0.14],[405,0.16],[415,0.22],[428,0.35],[432,0.6],[436,0.78],[442,0.86],[448,0.85],[449.5,0.5],[450.5,0.22],[450.6,0.2],[470,0.2],[478,0.22],[482,0.3],[506,0.33],[510,0.33],[510.1,0.33],[516,0.36],[553,0.36],[557,0.32],[561,0.25],[568,0.2],[575,0.16],[585,0.13],[600,0.12]]],[149.5,[[361,0.12],[405,0.15],[415,0.22],[430,0.3],[436,0.5],[446,0.55],[449.5,0.4],[450.5,0.18],[478,0.18],[482,0.28],[506,0.3],[510,0.3],[516,0.33],[552,0.33],[561,0.24],[568,0.19],[600,0.12]]],[152,[[361,0.1],[420,0.13],[440,0.2],[450,0.13],[480,0.15],[500,0.2],[520,0.22],[545,0.22],[560,0.18],[600,0.1]]]],"p":[[0.15,0.19,[[404,90],[409,90],[418,152],[398,152]]],[0.32,0.26,[[423.5,128],[426.2,128.2],[426.8,133],[427.6,137.9],[428.8,141],[430.3,143.4],[432.5,145.7],[435,147.5],[439,148.6],[443,149.1],[450.5,149.1],[450.5,153],[423.5,153]],1],[0.44,0.36,[[454.5,140],[454.5,128],[460,126],[465,124],[469,118],[472,110],[474.5,110],[476.5,114],[478,118],[480,122],[482,115],[484,100],[487,85],[490,79],[493,85],[496,100],[499,112],[501.5,120],[504,127],[506,130],[506,140]],1],[0.05,0.05,[[501.5,100],[505,100],[505.5,126],[503,126]],1],[0.5,0.64,[[516,85],[516,145],[517,148.5],[519,150.3],[550,150.3],[553,148],[553.5,95],[552,88],[549,86],[546,88],[543,93],[540,100],[537,108],[534.5,116],[533,122],[531.5,126],[530.5,120],[530,110],[529,100],[528,88]]],[0.68,0.68,[[519.5,94],[524.5,94],[525,117],[519.5,117]]],[0.68,0.68,[[516.5,115],[516.5,145],[518,149],[520,150],[549,150],[551.5,147],[551.5,97],[550,91],[547.5,90],[545,94],[542,100],[538.5,110],[535.5,120],[533.5,128],[532,131],[530.5,128],[529.5,122],[526,117],[521,115]]],[0.74,0.74,[[517,122],[517,145],[519,149.2],[548,149.2],[550.5,146],[550.5,100],[549,95],[547,96],[544,103],[540.5,113],[537.5,122],[535,132],[532,138],[529,134],[524,128],[520,124]]],[0.8,0.8,[[517.3,130],[517.3,146],[519.5,149.5],[546,149.5],[549.5,145],[549.5,110],[547.5,105],[544,113],[540,125],[536,137],[531,141],[525,136],[520,131]]],[0.86,0.86,[[517,137],[517.2,147],[520,149.8],[540,149.8],[544,146],[545,140],[541,138],[533,142],[525,139]]],[0.92,0.92,[[517.5,142],[518,148.5],[520.5,149.8],[533,149.8],[537,147],[531,144.5],[523,143]]]],"s":3},{"b":[48,201,286,327],"r":[[201,[[48,0.12],[74,0.12],[75.5,0.14],[100,0.14],[108.5,0.15],[109.5,0.3],[110.5,0.4],[113,0.48],[114.2,0.56],[115.5,0.64],[119,0.67],[121.4,0.7],[122.5,0.73],[125,0.75],[127.2,0.78],[128.5,0.85],[131.3,0.86],[132.2,0.64],[133.4,0.64],[134.2,0.72],[135.2,0.72],[136,0.56],[137.4,0.5],[138.2,0.42],[139.5,0.44],[140.5,0.5],[143,0.5],[144,0.42],[145.2,0.44],[146,0.54],[149,0.56],[150,0.62],[151.6,0.6],[152.3,0.08],[153.8,0.08],[154.4,0.5],[156.6,0.52],[157.3,0.05],[158,0.05],[158.4,0.72],[159.8,0.72],[160.3,0.5],[161.5,0.5],[162,0.6],[163.2,0.6],[163.7,0.15],[164.5,0.15],[165.2,0.45],[166,0.45],[166.5,0.66],[167.8,0.68],[168.5,0.74],[171,0.74],[171.6,0.05],[172.6,0.05],[173.2,0.22],[173.8,0.3],[174.3,0.45],[176,0.45],[176.6,0.05],[177.4,0.05],[178,0.6],[178.8,0.65],[179.5,0.72],[181,0.72],[181.8,0.62],[183,0.6],[183.6,0.45],[185.4,0.45],[186,0.6],[187,0.6],[187.5,0.66],[189,0.66],[189.8,0.4],[190.8,0.27],[192.5,0.24],[196.5,0.24],[197.5,0.37],[199.5,0.42],[201.5,0.42],[202.5,0.36],[204,0.38],[205,0.45],[210.7,0.47],[212,0.55],[217,0.56],[218.5,0.48],[225,0.46],[231,0.42],[233,0.38],[239,0.36],[243,0.31],[247,0.28],[252,0.25],[257,0.22],[262,0.19],[267,0.17],[277,0.14],[286,0.12]]],[240,[[48,0.12],[74,0.12],[75.5,0.14],[100,0.14],[108.5,0.15],[109.5,0.3],[110.5,0.4],[113,0.48],[114.2,0.56],[115.5,0.64],[119,0.67],[121.4,0.7],[122.5,0.73],[125,0.75],[127.2,0.78],[128.5,0.85],[131.3,0.86],[132.2,0.64],[133.4,0.64],[134.2,0.72],[135.2,0.72],[136,0.56],[137.4,0.5],[138.2,0.42],[139.5,0.44],[140.5,0.5],[141.6,0.6],[142.6,0.5],[143,0.5],[144,0.42],[145.2,0.44],[146,0.54],[149,0.56],[150,0.62],[151.6,0.6],[152.3,0.08],[153.8,0.08],[154.4,0.5],[156.6,0.52],[157.3,0.05],[158,0.05],[158.4,0.72],[159.8,0.72],[160.3,0.5],[161.5,0.5],[162,0.6],[163.2,0.6],[163.7,0.15],[164.5,0.15],[165.2,0.45],[166,0.45],[166.5,0.66],[167.8,0.68],[168.5,0.74],[171,0.74],[171.6,0.05],[172.6,0.05],[173.2,0.22],[173.8,0.3],[174.3,0.45],[176,0.45],[176.6,0.05],[177.4,0.05],[178,0.6],[178.8,0.65],[179.5,0.72],[181,0.72],[181.8,0.62],[183,0.6],[183.6,0.45],[185.4,0.45],[186,0.6],[187,0.6],[187.5,0.66],[189,0.66],[189.8,0.4],[190.8,0.27],[192.5,0.24],[196.5,0.24],[197.5,0.37],[199.5,0.42],[201.5,0.42],[202.5,0.36],[204,0.38],[205,0.45],[210.7,0.47],[212,0.55],[217,0.56],[218.5,0.48],[225,0.46],[231,0.42],[233,0.38],[239,0.36],[243,0.31],[247,0.28],[252,0.25],[257,0.22],[262,0.19],[267,0.17],[277,0.14],[286,0.12]]],[265,[[48,0.12],[74,0.12],[75.5,0.14],[100,0.14],[108.5,0.14],[109.5,0.3],[110.5,0.4],[112.5,0.45],[113.5,0.6],[114.5,0.72],[117,0.74],[119,0.72],[121,0.74],[123,0.78],[125,0.84],[127.5,0.86],[130.3,0.8],[132,0.72],[133.7,0.8],[134.5,0.86],[136.2,0.84],[137,0.5],[138.2,0.42],[139.5,0.44],[140.5,0.45],[141.6,0.72],[142.6,0.45],[143,0.5],[144,0.42],[145.2,0.44],[146,0.54],[149,0.56],[150,0.62],[151.6,0.6],[152.3,0.08],[153.8,0.08],[154.4,0.5],[156.6,0.52],[157.3,0.05],[158,0.05],[158.4,0.72],[159.8,0.72],[160.3,0.5],[161.5,0.5],[162,0.6],[163.2,0.6],[163.7,0.15],[164.5,0.15],[165.2,0.45],[166,0.45],[166.5,0.66],[167.8,0.68],[168.5,0.74],[171,0.74],[171.6,0.05],[172.6,0.05],[173.2,0.22],[173.8,0.3],[174.3,0.45],[176,0.45],[176.6,0.05],[177.4,0.05],[178,0.6],[178.8,0.65],[179.5,0.72],[181,0.72],[181.8,0.62],[183,0.6],[183.6,0.45],[185.4,0.45],[186,0.6],[187,0.6],[187.5,0.66],[189,0.66],[189.8,0.4],[190.8,0.27],[192.5,0.24],[196.5,0.24],[197.5,0.37],[199.5,0.42],[201.5,0.42],[202.5,0.36],[204,0.38],[205,0.45],[210.7,0.47],[212,0.55],[217,0.56],[218.5,0.48],[225,0.46],[231,0.42],[233,0.38],[239,0.36],[243,0.31],[247,0.28],[252,0.25],[257,0.22],[262,0.19],[267,0.17],[277,0.14],[286,0.12]]],[300,[[48,0.12],[74,0.12],[75.5,0.14],[95,0.15],[103,0.2],[110,0.3],[112.5,0.4],[113.5,0.58],[114.5,0.76],[117.4,0.8],[119,0.77],[121,0.84],[124,0.88],[127,0.88],[128,0.84],[130.3,0.84],[132,0.77],[133.7,0.84],[135,0.92],[137,0.9],[137.8,0.4],[138.2,0.42],[139.5,0.42],[140.5,0.42],[141.6,0.72],[142.6,0.42],[143,0.45],[144,0.42],[145.2,0.44],[146,0.54],[149,0.56],[150,0.62],[151.6,0.6],[152.3,0.08],[153.8,0.08],[154.4,0.5],[156.6,0.52],[157.3,0.05],[158,0.05],[158.4,0.72],[159.8,0.72],[160.3,0.5],[161.5,0.5],[162,0.6],[163.2,0.6],[163.7,0.15],[164.5,0.15],[165.2,0.45],[166,0.45],[166.5,0.66],[167.8,0.68],[168.5,0.74],[171,0.74],[171.6,0.05],[172.6,0.05],[173.2,0.22],[173.8,0.3],[174.3,0.45],[176,0.45],[176.6,0.05],[177.4,0.05],[178,0.6],[178.8,0.65],[179.5,0.72],[181,0.72],[181.8,0.62],[183,0.6],[183.6,0.45],[185.4,0.45],[186,0.6],[187,0.6],[187.5,0.66],[189,0.66],[189.8,0.4],[190.8,0.27],[192.5,0.24],[196.5,0.24],[197.5,0.37],[199.5,0.42],[201.5,0.42],[202,0.42],[212,0.5],[220,0.45],[225,0.45],[231,0.42],[233,0.38],[239,0.36],[243,0.31],[247,0.28],[252,0.25],[257,0.22],[262,0.19],[267,0.17],[277,0.14],[286,0.12]]],[308,[[48,0.12],[74,0.12],[75.5,0.14],[95,0.16],[103,0.22],[110,0.32],[113,0.4],[114,0.6],[115,0.8],[120,0.86],[126,0.88],[127.5,0.77],[129,0.88],[131,0.92],[136,0.93],[137.3,0.86],[137.8,0.4],[138,0.4],[141,0.45],[142,0.4],[190,0.38],[190.8,0.26],[195,0.26],[196.5,0.6],[197.8,0.35],[201,0.38],[201.5,0.42],[202,0.4],[240,0.38],[242,0.31],[243,0.31],[247,0.28],[252,0.25],[257,0.22],[262,0.19],[267,0.17],[277,0.14],[286,0.12]]],[314,[[48,0.12],[74,0.12],[75.5,0.14],[95,0.17],[103,0.24],[110,0.33],[113,0.38],[114.5,0.65],[116,0.82],[120,0.86],[126,0.88],[127.5,0.78],[129,0.9],[131,0.93],[136,0.92],[137.3,0.86],[137.8,0.34],[138,0.33],[150,0.34],[165,0.36],[175,0.38],[190,0.37],[191,0.26],[195,0.27],[197,0.34],[201,0.35],[201.5,0.42],[202,0.36],[240,0.36],[242,0.31],[243,0.31],[247,0.28],[252,0.25],[257,0.22],[262,0.19],[267,0.17],[277,0.14],[286,0.12]]],[319,[[48,0.12],[74,0.12],[75.5,0.14],[95,0.18],[103,0.25],[110,0.33],[113,0.36],[118,0.72],[124,0.86],[126.5,0.86],[127.5,0.8],[128.5,0.88],[130,0.91],[136,0.9],[137.3,0.82],[137.8,0.26],[138,0.24],[150,0.24],[165,0.27],[170,0.3],[190,0.32],[191,0.25],[195,0.28],[201,0.32],[201.5,0.42],[202,0.34],[240,0.34],[242,0.3],[243,0.31],[247,0.28],[252,0.25],[257,0.22],[262,0.19],[267,0.17],[277,0.14],[286,0.12]]],[323.5,[[48,0.12],[95,0.16],[105,0.2],[115,0.28],[124,0.45],[130,0.5],[137,0.4],[137.8,0.2],[150,0.18],[165,0.2],[175,0.26],[190,0.27],[201,0.3],[236,0.32],[242,0.28],[250,0.22],[262,0.17],[286,0.12]]],[327,[[48,0.1],[120,0.14],[137.5,0.13],[201,0.18],[240,0.18],[286,0.1]]]],"p":[[0.16,0.2,[[95,255],[100,255],[108,327],[90,327]]],[0.36,0.3,[[110.5,292],[112.6,292],[113.2,298],[114.2,303],[115.6,307],[117.5,311],[120,314.5],[123,317.5],[127,320],[131,321.5],[137,322.2],[138.5,322.2],[138.5,327.5],[110.5,327.5]],1],[0.5,0.64,[[201.8,250],[201.8,322],[202.5,324.5],[204,325.6],[236,325.6],[239,324],[239.7,270],[238.5,265],[236,263.5],[233,265],[229,271],[226,278],[223,288],[220.5,300],[219,310],[218,305],[216.5,293],[214.5,280],[213,270],[212,255],[210,250]]],[0.7,0.7,[[203.2,269],[206.2,269],[206.5,300],[205,306],[203.2,306]]],[0.7,0.7,[[210,285],[214.5,283],[215.5,300],[214,312],[210,312]]],[0.7,0.7,[[202.3,300],[202.3,322],[203.5,324.5],[205,325.3],[234.5,325.3],[236.5,323],[237,270],[236.5,265],[233,264],[229.5,267],[227,275],[223.5,290],[220.5,302],[218.5,311],[215,314],[210,312],[206,307]]],[0.78,0.78,[[202.6,308],[202.6,323],[205,325],[234,325],[236.5,320],[236.5,276],[234,271],[231,278],[227,290],[223,303],[220,312],[216,316],[211,315],[206,312]]],[0.86,0.86,[[202.8,313],[203,323],[205.5,325],[228,325],[231,321],[231,306],[228,303],[224,310],[219,317],[212,318],[206,315]]],[0.92,0.92,[[204,318],[204.5,324],[207,325],[222,325],[225,322],[222,320],[214,319.5],[208,318]]],[0.44,0.34,[[137.6,312],[137.6,306],[141.7,305],[150,298],[160,289],[165,282],[168.6,277],[172,281],[178.7,290],[186,298],[190,302],[190,312]],1],[0.05,0.05,[[167,271],[170.5,271],[170,278],[168,278.5]],1],[0.05,0.05,[[159.5,280],[161.5,280],[161.2,289],[160,289]],1],[0.05,0.05,[[150.3,287],[152.3,287],[152,297],[150.8,297]],1],[0.05,0.05,[[177.8,282],[180.3,282],[179.8,290],[178.3,290]],1],[0.05,0.05,[[188.7,294],[190.8,294],[190.3,302],[189.2,302]],1]],"s":3},{"b":[361,201,600,327],"r":[[201,[[361,0.12],[387,0.12],[388.5,0.14],[413,0.14],[421.5,0.15],[422.5,0.3],[423.5,0.4],[426,0.48],[427.2,0.56],[428.5,0.64],[432,0.67],[434.4,0.7],[435.5,0.73],[438,0.75],[440.2,0.78],[441.5,0.85],[444.3,0.86],[445.2,0.64],[446.4,0.64],[447.2,0.72],[448.2,0.72],[449,0.56],[450.4,0.5],[451.2,0.42],[452.5,0.44],[453.5,0.5],[456,0.5],[457,0.42],[458.2,0.44],[459,0.54],[462,0.56],[463,0.62],[464.6,0.6],[465.3,0.08],[466.8,0.08],[467.4,0.5],[469.6,0.52],[470.3,0.05],[471,0.05],[471.4,0.72],[472.8,0.72],[473.3,0.5],[474.5,0.5],[475,0.6],[476.2,0.6],[476.7,0.15],[477.5,0.15],[478.2,0.45],[479,0.45],[479.5,0.66],[480.8,0.68],[481.5,0.74],[484,0.74],[484.6,0.05],[485.6,0.05],[486.2,0.22],[486.8,0.3],[487.3,0.45],[489,0.45],[489.6,0.05],[490.4,0.05],[491,0.6],[491.8,0.65],[492.5,0.72],[494,0.72],[494.8,0.62],[496,0.6],[496.6,0.45],[498.4,0.45],[499,0.6],[500,0.6],[500.5,0.66],[502,0.66],[502.8,0.4],[503.8,0.27],[505.5,0.24],[509.5,0.24],[510.5,0.37],[512.5,0.42],[514.5,0.42],[515.5,0.36],[517,0.38],[518,0.45],[523.7,0.47],[525,0.55],[530,0.56],[531.5,0.48],[538,0.46],[544,0.42],[546,0.38],[552,0.36],[556,0.31],[560,0.28],[565,0.25],[570,0.22],[575,0.19],[580,0.17],[590,0.14],[599,0.12]]],[240,[[361,0.12],[387,0.12],[388.5,0.14],[413,0.14],[421.5,0.15],[422.5,0.3],[423.5,0.4],[426,0.48],[427.2,0.56],[428.5,0.64],[432,0.67],[434.4,0.7],[435.5,0.73],[438,0.75],[440.2,0.78],[441.5,0.85],[444.3,0.86],[445.2,0.64],[446.4,0.64],[447.2,0.72],[448.2,0.72],[449,0.56],[450.4,0.5],[451.2,0.42],[452.5,0.44],[453.5,0.5],[454.6,0.6],[455.6,0.5],[456,0.5],[457,0.42],[458.2,0.44],[459,0.54],[462,0.56],[463,0.62],[464.6,0.6],[465.3,0.08],[466.8,0.08],[467.4,0.5],[469.6,0.52],[470.3,0.05],[471,0.05],[471.4,0.72],[472.8,0.72],[473.3,0.5],[474.5,0.5],[475,0.6],[476.2,0.6],[476.7,0.15],[477.5,0.15],[478.2,0.45],[479,0.45],[479.5,0.66],[480.8,0.68],[481.5,0.74],[484,0.74],[484.6,0.05],[485.6,0.05],[486.2,0.22],[486.8,0.3],[487.3,0.45],[489,0.45],[489.6,0.05],[490.4,0.05],[491,0.6],[491.8,0.65],[492.5,0.72],[494,0.72],[494.8,0.62],[496,0.6],[496.6,0.45],[498.4,0.45],[499,0.6],[500,0.6],[500.5,0.66],[502,0.66],[502.8,0.4],[503.8,0.27],[505.5,0.24],[509.5,0.24],[510.5,0.37],[512.5,0.42],[514.5,0.42],[515.5,0.36],[517,0.38],[518,0.45],[523.7,0.47],[525,0.55],[530,0.56],[531.5,0.48],[538,0.46],[544,0.42],[546,0.38],[552,0.36],[556,0.31],[560,0.28],[565,0.25],[570,0.22],[575,0.19],[580,0.17],[590,0.14],[599,0.12]]],[265,[[361,0.12],[387,0.12],[388.5,0.14],[413,0.14],[421.5,0.14],[422.5,0.3],[423.5,0.4],[425.5,0.45],[426.5,0.6],[427.5,0.72],[430,0.74],[432,0.72],[434,0.74],[436,0.78],[438,0.84],[440.5,0.86],[443.3,0.8],[445,0.72],[446.7,0.8],[447.5,0.86],[449.2,0.84],[450,0.5],[451.2,0.42],[452.5,0.44],[453.5,0.45],[454.6,0.72],[455.6,0.45],[456,0.5],[457,0.42],[458.2,0.44],[459,0.54],[462,0.56],[463,0.62],[464.6,0.6],[465.3,0.08],[466.8,0.08],[467.4,0.5],[469.6,0.52],[470.3,0.05],[471,0.05],[471.4,0.72],[472.8,0.72],[473.3,0.5],[474.5,0.5],[475,0.6],[476.2,0.6],[476.7,0.15],[477.5,0.15],[478.2,0.45],[479,0.45],[479.5,0.66],[480.8,0.68],[481.5,0.74],[484,0.74],[484.6,0.05],[485.6,0.05],[486.2,0.22],[486.8,0.3],[487.3,0.45],[489,0.45],[489.6,0.05],[490.4,0.05],[491,0.6],[491.8,0.65],[492.5,0.72],[494,0.72],[494.8,0.62],[496,0.6],[496.6,0.45],[498.4,0.45],[499,0.6],[500,0.6],[500.5,0.66],[502,0.66],[502.8,0.4],[503.8,0.27],[505.5,0.24],[509.5,0.24],[510.5,0.37],[512.5,0.42],[514.5,0.42],[515.5,0.36],[517,0.38],[518,0.45],[523.7,0.47],[525,0.55],[530,0.56],[531.5,0.48],[538,0.46],[544,0.42],[546,0.38],[552,0.36],[556,0.31],[560,0.28],[565,0.25],[570,0.22],[575,0.19],[580,0.17],[590,0.14],[599,0.12]]],[300,[[361,0.12],[387,0.12],[388.5,0.14],[408,0.15],[416,0.2],[423,0.3],[425.5,0.4],[426.5,0.58],[427.5,0.76],[430.4,0.8],[432,0.77],[434,0.84],[437,0.88],[440,0.88],[441,0.84],[443.3,0.84],[445,0.77],[446.7,0.84],[448,0.92],[450,0.9],[450.8,0.4],[451.2,0.42],[452.5,0.42],[453.5,0.42],[454.6,0.72],[455.6,0.42],[456,0.45],[457,0.42],[458.2,0.44],[459,0.54],[462,0.56],[463,0.62],[464.6,0.6],[465.3,0.08],[466.8,0.08],[467.4,0.5],[469.6,0.52],[470.3,0.05],[471,0.05],[471.4,0.72],[472.8,0.72],[473.3,0.5],[474.5,0.5],[475,0.6],[476.2,0.6],[476.7,0.15],[477.5,0.15],[478.2,0.45],[479,0.45],[479.5,0.66],[480.8,0.68],[481.5,0.74],[484,0.74],[484.6,0.05],[485.6,0.05],[486.2,0.22],[486.8,0.3],[487.3,0.45],[489,0.45],[489.6,0.05],[490.4,0.05],[491,0.6],[491.8,0.65],[492.5,0.72],[494,0.72],[494.8,0.62],[496,0.6],[496.6,0.45],[498.4,0.45],[499,0.6],[500,0.6],[500.5,0.66],[502,0.66],[502.8,0.4],[503.8,0.27],[505.5,0.24],[509.5,0.24],[510.5,0.37],[512.5,0.42],[514.5,0.42],[515,0.42],[525,0.5],[533,0.45],[538,0.45],[544,0.42],[546,0.38],[552,0.36],[556,0.31],[560,0.28],[565,0.25],[570,0.22],[575,0.19],[580,0.17],[590,0.14],[599,0.12]]],[308,[[361,0.12],[387,0.12],[388.5,0.14],[408,0.16],[416,0.22],[423,0.32],[426,0.4],[427,0.6],[428,0.8],[433,0.86],[439,0.88],[440.5,0.77],[442,0.88],[444,0.92],[449,0.93],[450.3,0.86],[450.8,0.4],[451,0.4],[454,0.45],[455,0.4],[503,0.38],[503.8,0.26],[508,0.26],[509.5,0.6],[510.8,0.35],[514,0.38],[514.5,0.42],[515,0.4],[553,0.38],[555,0.31],[556,0.31],[560,0.28],[565,0.25],[570,0.22],[575,0.19],[580,0.17],[590,0.14],[599,0.12]]],[314,[[361,0.12],[387,0.12],[388.5,0.14],[408,0.17],[416,0.24],[423,0.33],[426,0.38],[427.5,0.65],[429,0.82],[433,0.86],[439,0.88],[440.5,0.78],[442,0.9],[444,0.93],[449,0.92],[450.3,0.86],[450.8,0.34],[451,0.33],[463,0.34],[478,0.36],[488,0.38],[503,0.37],[504,0.26],[508,0.27],[510,0.34],[514,0.35],[514.5,0.42],[515,0.36],[553,0.36],[555,0.31],[556,0.31],[560,0.28],[565,0.25],[570,0.22],[575,0.19],[580,0.17],[590,0.14],[599,0.12]]],[319,[[361,0.12],[387,0.12],[388.5,0.14],[408,0.18],[416,0.25],[423,0.33],[426,0.36],[431,0.72],[437,0.86],[439.5,0.86],[440.5,0.8],[441.5,0.88],[443,0.91],[449,0.9],[450.3,0.82],[450.8,0.26],[451,0.24],[463,0.24],[478,0.27],[483,0.3],[503,0.32],[504,0.25],[508,0.28],[514,0.32],[514.5,0.42],[515,0.34],[553,0.34],[555,0.3],[556,0.31],[560,0.28],[565,0.25],[570,0.22],[575,0.19],[580,0.17],[590,0.14],[599,0.12]]],[323.5,[[361,0.12],[408,0.16],[418,0.2],[428,0.28],[437,0.45],[443,0.5],[450,0.4],[450.8,0.2],[463,0.18],[478,0.2],[488,0.26],[503,0.27],[514,0.3],[549,0.32],[555,0.28],[563,0.22],[575,0.17],[599,0.12]]],[327,[[361,0.1],[433,0.14],[450.5,0.13],[514,0.18],[553,0.18],[599,0.1]]]],"p":[[0.16,0.2,[[408,255],[413,255],[421,327],[403,327]]],[0.36,0.3,[[423.5,292],[425.6,292],[426.2,298],[427.2,303],[428.6,307],[430.5,311],[433,314.5],[436,317.5],[440,320],[444,321.5],[450,322.2],[451.5,322.2],[451.5,327.5],[423.5,327.5]],1],[0.5,0.64,[[514.8,250],[514.8,322],[515.5,324.5],[517,325.6],[549,325.6],[552,324],[552.7,270],[551.5,265],[549,263.5],[546,265],[542,271],[539,278],[536,288],[533.5,300],[532,310],[531,305],[529.5,293],[527.5,280],[526,270],[525,255],[523,250]]],[0.7,0.7,[[516.2,269],[519.2,269],[519.5,300],[518,306],[516.2,306]]],[0.7,0.7,[[523,285],[527.5,283],[528.5,300],[527,312],[523,312]]],[0.7,0.7,[[515.3,300],[515.3,322],[516.5,324.5],[518,325.3],[547.5,325.3],[549.5,323],[550,270],[549.5,265],[546,264],[542.5,267],[540,275],[536.5,290],[533.5,302],[531.5,311],[528,314],[523,312],[519,307]]],[0.78,0.78,[[515.6,308],[515.6,323],[518,325],[547,325],[549.5,320],[549.5,276],[547,271],[544,278],[540,290],[536,303],[533,312],[529,316],[524,315],[519,312]]],[0.86,0.86,[[515.8,313],[516,323],[518.5,325],[541,325],[544,321],[544,306],[541,303],[537,310],[532,317],[525,318],[519,315]]],[0.92,0.92,[[517,318],[517.5,324],[520,325],[535,325],[538,322],[535,320],[527,319.5],[521,318]]],[0.44,0.34,[[450.6,312],[450.6,306],[454.7,305],[463,298],[473,289],[478,282],[481.6,277],[485,281],[491.7,290],[499,298],[503,302],[503,312]],1],[0.05,0.05,[[480,271],[483.5,271],[483,278],[481,278.5]],1],[0.05,0.05,[[472.5,280],[474.5,280],[474.2,289],[473,289]],1],[0.05,0.05,[[463.3,287],[465.3,287],[465,297],[463.8,297]],1],[0.05,0.05,[[490.8,282],[493.3,282],[492.8,290],[491.3,290]],1],[0.05,0.05,[[501.7,294],[503.8,294],[503.3,302],[502.2,302]],1]],"s":3},{"b":[48,376,286,501],"r":[[376,[[48,0.12],[70,0.12],[71.5,0.14],[100,0.14],[108.5,0.15],[109.5,0.35],[110.4,0.4],[113,0.5],[114.2,0.6],[117,0.66],[118.5,0.72],[120,0.78],[122.5,0.82],[125,0.84],[127,0.86],[128,0.88],[131.5,0.87],[132.2,0.66],[133.4,0.66],[134,0.86],[136.6,0.86],[137.2,0.3],[138.2,0.38],[139.5,0.42],[140.5,0.52],[143,0.52],[144,0.57],[145.8,0.57],[146.5,0.5],[148.8,0.5],[149.5,0.57],[152.5,0.57],[153.8,0.5],[155.5,0.45],[157.5,0.42],[158.2,0.04],[161.4,0.04],[162,0.3],[162.8,0.82],[166.3,0.82],[167,0.7],[167.6,0.5],[168.2,0.04],[171.8,0.04],[172.4,0.4],[173.4,0.62],[176.2,0.62],[176.8,0.4],[177.5,0.05],[180,0.05],[180.6,0.4],[181.4,0.5],[183.6,0.5],[184.5,0.56],[185,0.45],[186.5,0.42],[187.2,0.3],[189,0.28],[189.6,0.25],[192.2,0.25],[193,0.3],[195.3,0.32],[196.5,0.38],[199,0.4],[202.5,0.4],[204,0.48],[210,0.52],[212,0.55],[217,0.55],[218.5,0.48],[225,0.46],[231,0.42],[233,0.38],[239,0.36],[243,0.31],[247,0.28],[252,0.25],[257,0.22],[262,0.19],[267,0.17],[277,0.14],[286,0.12]]],[432,[[48,0.12],[70,0.12],[71.5,0.14],[100,0.14],[108.5,0.15],[109.5,0.35],[110.4,0.4],[113,0.5],[114.2,0.6],[117,0.66],[118.5,0.72],[120,0.78],[122.5,0.82],[125,0.84],[127,0.86],[128,0.88],[131.5,0.87],[132.2,0.66],[133.4,0.66],[134,0.86],[136.6,0.86],[137.2,0.3],[138.2,0.38],[139.5,0.42],[140.5,0.52],[143,0.52],[144,0.57],[145.8,0.57],[146.5,0.5],[148.8,0.5],[149.5,0.57],[152.5,0.57],[153.8,0.5],[155.5,0.45],[157.5,0.42],[158.2,0.04],[161.4,0.04],[162,0.3],[162.8,0.82],[166.3,0.82],[167,0.7],[167.6,0.5],[168.2,0.04],[171.8,0.04],[172.4,0.4],[173.4,0.62],[176.2,0.62],[176.8,0.4],[177.5,0.05],[180,0.05],[180.6,0.4],[181.4,0.5],[183.6,0.5],[184.5,0.56],[185,0.45],[186.5,0.42],[187.2,0.3],[189,0.28],[189.6,0.25],[192.2,0.25],[193,0.3],[195.3,0.32],[196.5,0.38],[199,0.4],[202.5,0.4],[204,0.48],[210,0.52],[212,0.55],[217,0.55],[218.5,0.48],[225,0.46],[231,0.42],[233,0.38],[239,0.36],[243,0.31],[247,0.28],[252,0.25],[257,0.22],[262,0.19],[267,0.17],[277,0.14],[286,0.12]]],[451,[[48,0.12],[70,0.12],[71.5,0.14],[100,0.14],[108.5,0.14],[109.5,0.33],[110.4,0.4],[112.5,0.5],[113.5,0.62],[114.5,0.76],[117,0.82],[120,0.86],[125,0.87],[126.3,0.72],[127.5,0.86],[131.5,0.88],[132.8,0.74],[134,0.88],[137.8,0.88],[138.5,0.4],[139.5,0.42],[140.5,0.52],[143,0.52],[144,0.57],[145.8,0.57],[146.5,0.5],[148.8,0.5],[149.5,0.57],[152.5,0.57],[153.8,0.5],[155.5,0.42],[158.4,0.3],[160,0.1],[162,0.3],[162.6,0.8],[166,0.8],[167,0.42],[168,0.1],[172,0.05],[173,0.6],[176,0.6],[177,0.1],[178.5,0.42],[183.5,0.42],[184.2,0.1],[185.3,0.42],[186.5,0.42],[187.2,0.3],[189,0.28],[189.6,0.25],[192.2,0.25],[193,0.3],[195.3,0.32],[196.5,0.38],[199,0.4],[202.5,0.4],[204,0.48],[210,0.52],[212,0.55],[217,0.55],[218.5,0.48],[225,0.46],[231,0.42],[233,0.38],[239,0.36],[243,0.31],[247,0.28],[252,0.25],[257,0.22],[262,0.19],[267,0.17],[277,0.14],[286,0.12]]],[466,[[48,0.12],[70,0.12],[71.5,0.14],[100,0.14],[108.5,0.14],[109.5,0.33],[110.4,0.4],[112.5,0.5],[113.5,0.62],[114.5,0.76],[117,0.82],[120,0.86],[125,0.87],[126.3,0.72],[127.5,0.86],[131.5,0.88],[132.8,0.74],[134,0.88],[137.8,0.88],[138.5,0.4],[138.6,0.4],[140.5,0.5],[142,0.5],[143,0.72],[144,0.5],[152,0.5],[153,0.7],[154,0.48],[155.5,0.42],[162.5,0.45],[163.5,0.7],[165,0.45],[168,0.42],[170,0.2],[172,0.42],[174,0.55],[176,0.42],[184,0.42],[184.5,0.25],[185.3,0.42],[186.5,0.42],[187.2,0.3],[189,0.28],[189.6,0.25],[192.2,0.25],[193,0.3],[195.3,0.32],[196.5,0.38],[199,0.4],[202.5,0.45],[212,0.55],[217,0.52],[225,0.45],[231,0.42],[233,0.38],[239,0.36],[243,0.31],[247,0.28],[252,0.25],[257,0.22],[262,0.19],[267,0.17],[277,0.14],[286,0.12]]],[480,[[48,0.12],[70,0.12],[71.5,0.14],[95,0.15],[103,0.2],[110,0.3],[112.5,0.4],[113.5,0.6],[114.5,0.78],[117,0.84],[125,0.86],[126.3,0.76],[127.5,0.88],[129,0.92],[132,0.9],[132.8,0.8],[134,0.92],[137.8,0.92],[138.5,0.4],[138.6,0.4],[142,0.45],[143,0.72],[144,0.45],[152,0.42],[153,0.65],[154,0.42],[183,0.42],[184,0.5],[185,0.42],[189.5,0.4],[190.5,0.25],[194.5,0.25],[195.5,0.38],[196.5,0.68],[198,0.38],[202,0.4],[202.1,0.42],[212,0.5],[220,0.45],[225,0.45],[231,0.42],[233,0.38],[239,0.36],[243,0.31],[247,0.28],[252,0.25],[257,0.22],[262,0.19],[267,0.17],[277,0.14],[286,0.12]]],[490,[[48,0.12],[70,0.12],[71.5,0.14],[95,0.17],[103,0.24],[110,0.33],[113,0.4],[114,0.6],[115,0.82],[125,0.88],[126.3,0.8],[127.5,0.9],[129,0.94],[137.8,0.93],[138.5,0.35],[138.6,0.34],[150,0.34],[165,0.36],[175,0.38],[190,0.36],[191,0.26],[195,0.27],[197,0.34],[202,0.35],[202.1,0.36],[240,0.36],[242,0.31],[243,0.31],[247,0.28],[252,0.25],[257,0.22],[262,0.19],[267,0.17],[277,0.14],[286,0.12]]],[495,[[48,0.12],[70,0.12],[71.5,0.14],[95,0.18],[103,0.25],[110,0.33],[113,0.36],[118,0.72],[124,0.86],[130,0.91],[137.5,0.9],[138.5,0.26],[138.6,0.24],[150,0.24],[165,0.27],[170,0.3],[190,0.3],[191,0.25],[195,0.28],[202,0.32],[202.1,0.34],[240,0.34],[242,0.3],[243,0.31],[247,0.28],[252,0.25],[257,0.22],[262,0.19],[267,0.17],[277,0.14],[286,0.12]]],[498.5,[[48,0.12],[95,0.16],[105,0.2],[115,0.28],[124,0.45],[130,0.5],[138,0.4],[138.6,0.2],[150,0.18],[165,0.2],[175,0.26],[190,0.27],[202,0.3],[236,0.32],[242,0.28],[250,0.22],[262,0.17],[286,0.12]]],[501,[[48,0.1],[120,0.14],[138,0.13],[202,0.18],[240,0.18],[286,0.1]]]],"p":[[0.16,0.18,[[92,415],[97,415],[104,500],[86,500]]],[0.36,0.3,[[111,468],[113.3,468],[114,474],[115,479],[116.5,484],[118.5,488.5],[121,492],[124,495],[128,497.5],[133,498.6],[138,498.8],[139.5,498.8],[139.5,502],[111,502]],1],[0.5,0.64,[[202,425],[202,497],[203,499.5],[205,500.5],[237,500.5],[240,498.5],[240.5,448],[239.5,442],[237,441],[234,443],[230,452],[226,465],[222,480],[219.5,487],[218,482],[216.5,470],[216,455],[215.5,440],[214,425]]],[0.66,0.66,[[205,462],[208,462],[208.3,480],[207.5,485],[205,485]]],[0.66,0.66,[[212.2,466],[215.5,466],[216,480],[215,490],[212,490]]],[0.7,0.7,[[202.3,480],[202.3,497],[203.5,499.5],[205,500.2],[236.5,500.2],[238.5,498],[238.5,450],[237.5,444],[234,444],[230,449],[227,458],[225,466],[223.5,474],[221,484],[219.5,489],[216,491],[210,490],[205,485]]],[0.78,0.78,[[202.6,485],[202.6,498],[205,500],[236,500],[238,496],[238,456],[236,450],[232,458],[228,470],[225,481],[222,490],[216,494],[210,492],[205,488]]],[0.86,0.86,[[202.8,488],[203,498],[205.5,500],[229,500],[232,497],[232,483],[229,480],[226,487],[220,494],[212,494],[206,490]]],[0.92,0.92,[[204,491],[204.5,499],[207,500.2],[222,500.2],[225,498],[222,495],[214,494.5],[208,492.5]]],[0.42,0.34,[[138.8,488],[138.8,483],[142,482],[144,480.6],[148,475],[152,469],[155,463],[158.4,452],[162.6,450],[166,458],[168,460],[172,463],[178,462],[183.5,462],[186,465],[189.5,470],[189.5,488]],1]],"s":3},{"b":[361,376,600,501],"r":[[376,[[361,0.12],[389,0.12],[390.5,0.14],[413,0.15],[421.5,0.16],[422.5,0.3],[424,0.36],[425.5,0.45],[426.5,0.56],[427.5,0.63],[428.5,0.7],[430,0.73],[434,0.73],[434.6,0.69],[439.3,0.68],[440.3,0.86],[448,0.88],[449.3,0.64],[452.5,0.6],[453.2,0.52],[454,0.36],[455.5,0.38],[454.5,0.4],[455.2,0.5],[459.5,0.5],[460.5,0.57],[461.4,0.62],[462.5,0.7],[463.8,0.62],[464.5,0.57],[465.5,0.5],[469.5,0.48],[470,0.05],[472.5,0.05],[473.2,0.6],[474.5,0.65],[475.3,0.73],[479.3,0.73],[480,0.8],[481.3,0.8],[481.8,0.4],[483,0.4],[483.5,0.05],[485.6,0.05],[486.2,0.4],[487.2,0.6],[489,0.64],[490,0.7],[492,0.68],[493.3,0.6],[494,0.5],[495.4,0.48],[496,0.4],[499,0.4],[499.6,0.2],[501.4,0.2],[502,0.38],[503.6,0.42],[505,0.46],[509.5,0.45],[510.2,0.38],[514.5,0.38],[515.5,0.5],[518,0.55],[535,0.56],[536.5,0.48],[545,0.45],[546.5,0.38],[553,0.36],[557,0.31],[561,0.28],[566,0.25],[571,0.22],[576,0.19],[581,0.17],[590,0.14],[600,0.12]]],[425,[[361,0.12],[389,0.12],[390.5,0.14],[413,0.15],[421.5,0.16],[422.5,0.3],[424,0.36],[425.5,0.45],[426.5,0.56],[427.5,0.63],[428.5,0.7],[430,0.73],[434,0.73],[434.6,0.69],[439.3,0.68],[440.3,0.86],[448,0.88],[449.3,0.64],[452.5,0.6],[453.2,0.52],[454,0.36],[455.5,0.38],[454.5,0.4],[455.2,0.5],[459.5,0.5],[460.5,0.57],[461.4,0.62],[462.5,0.7],[463.8,0.62],[464.5,0.57],[465.5,0.5],[469.5,0.48],[470,0.05],[472.5,0.05],[473.2,0.6],[474.5,0.65],[475.3,0.73],[479.3,0.73],[480,0.8],[481.3,0.8],[481.8,0.4],[483,0.4],[483.5,0.05],[485.6,0.05],[486.2,0.4],[487.2,0.6],[489,0.64],[490,0.7],[492,0.68],[493.3,0.6],[494,0.5],[495.4,0.48],[496,0.4],[499,0.4],[499.6,0.2],[501.4,0.2],[502,0.38],[503.6,0.42],[505,0.46],[509.5,0.45],[510.2,0.38],[514.5,0.38],[515.5,0.5],[518,0.55],[535,0.56],[536.5,0.48],[545,0.45],[546.5,0.38],[553,0.36],[557,0.31],[561,0.28],[566,0.25],[571,0.22],[576,0.19],[581,0.17],[590,0.14],[600,0.12]]],[440,[[361,0.12],[389,0.12],[390.5,0.14],[413,0.15],[421.5,0.16],[422.5,0.3],[424,0.36],[425.5,0.45],[426.5,0.56],[427.5,0.63],[428.5,0.72],[434,0.74],[434.6,0.72],[439.5,0.72],[440.3,0.87],[448,0.88],[449.3,0.7],[451,0.64],[452.7,0.55],[453.5,0.4],[454,0.36],[454.5,0.4],[455.2,0.5],[455.5,0.38],[459.5,0.5],[460.5,0.57],[461.4,0.62],[462.5,0.7],[463.8,0.62],[464.5,0.57],[465.5,0.5],[469.5,0.45],[470.5,0.15],[472,0.15],[473,0.6],[473.2,0.6],[474.5,0.65],[475.3,0.73],[479.3,0.73],[480,0.8],[481.3,0.8],[481.8,0.4],[483,0.4],[483.8,0.15],[485.3,0.15],[486.2,0.4],[487.2,0.6],[489,0.64],[490,0.7],[492,0.68],[493.3,0.6],[494,0.5],[495.4,0.48],[496,0.4],[499,0.4],[499.6,0.2],[501.4,0.2],[502,0.38],[503.6,0.42],[505,0.46],[509.5,0.45],[510.2,0.38],[514.5,0.38],[515.5,0.5],[518,0.55],[535,0.56],[536.5,0.48],[545,0.45],[546.5,0.38],[553,0.36],[557,0.31],[561,0.28],[566,0.25],[571,0.22],[576,0.19],[581,0.17],[590,0.14],[600,0.12]]],[455,[[361,0.12],[389,0.12],[390.5,0.14],[413,0.15],[421.5,0.16],[422.5,0.3],[424,0.36],[425.5,0.45],[426.5,0.58],[427.5,0.66],[428.5,0.75],[439.5,0.78],[440.3,0.88],[449.5,0.88],[451,0.75],[452.5,0.6],[453.5,0.4],[454,0.42],[461.4,0.45],[462.5,0.72],[463.8,0.45],[470,0.42],[471,0.2],[472,0.42],[474,0.62],[477,0.72],[480,0.62],[481,0.42],[483,0.38],[485,0.4],[490,0.62],[492,0.72],[494,0.6],[495,0.42],[499.5,0.38],[500.5,0.22],[501.5,0.38],[510,0.4],[514,0.42],[515.5,0.55],[518,0.55],[535,0.56],[536.5,0.48],[545,0.45],[546.5,0.38],[553,0.36],[557,0.31],[561,0.28],[566,0.25],[571,0.22],[576,0.19],[581,0.17],[590,0.14],[600,0.12]]],[470,[[361,0.12],[389,0.12],[390.5,0.14],[413,0.15],[421.5,0.16],[422,0.2],[424,0.36],[426.5,0.58],[427.5,0.7],[428.5,0.78],[439.5,0.82],[440.3,0.9],[451,0.9],[452,0.7],[453,0.42],[453.2,0.52],[454,0.42],[461.4,0.42],[462.5,0.72],[463.8,0.42],[474,0.42],[476,0.66],[479,0.6],[480.5,0.42],[490,0.45],[492,0.66],[494,0.45],[500,0.38],[501,0.22],[502,0.4],[503.5,0.72],[505.5,0.7],[507,0.45],[514,0.42],[515.5,0.5],[518,0.55],[535,0.56],[536.5,0.48],[545,0.45],[546.5,0.38],[553,0.36],[557,0.31],[561,0.28],[566,0.25],[571,0.22],[576,0.19],[581,0.17],[590,0.14],[600,0.12]]],[483,[[361,0.12],[389,0.12],[390.5,0.14],[413,0.15],[418,0.2],[422,0.25],[425,0.35],[426.5,0.58],[427.5,0.74],[428.5,0.82],[439.5,0.85],[440.3,0.92],[451.3,0.92],[452.2,0.7],[453,0.4],[453.2,0.52],[454,0.4],[462,0.5],[462.8,0.72],[463.8,0.42],[500,0.38],[501,0.25],[502.5,0.4],[503.5,0.8],[506,0.8],[507,0.4],[515,0.4],[515.5,0.45],[518,0.55],[535,0.56],[536.5,0.48],[545,0.45],[546.5,0.38],[553,0.36],[557,0.31],[561,0.28],[566,0.25],[571,0.22],[576,0.19],[581,0.17],[590,0.14],[600,0.12]]],[490,[[361,0.12],[389,0.12],[390.5,0.14],[413,0.15],[418,0.22],[422,0.28],[426.5,0.5],[428,0.8],[439.5,0.87],[441,0.93],[451.3,0.93],[452.5,0.5],[453,0.36],[453.2,0.52],[454,0.34],[470,0.34],[490,0.36],[500,0.36],[502.5,0.38],[503.5,0.85],[506,0.8],[507,0.38],[515,0.36],[515.5,0.5],[518,0.55],[535,0.56],[536.5,0.48],[545,0.45],[546.5,0.38],[553,0.36],[556,0.3],[557,0.31],[561,0.28],[566,0.25],[571,0.22],[576,0.19],[581,0.17],[590,0.14],[600,0.12]]],[495,[[361,0.12],[389,0.12],[390.5,0.14],[413,0.15],[418,0.22],[430,0.7],[440,0.9],[451.3,0.9],[452.5,0.4],[453,0.3],[453.2,0.52],[454,0.24],[470,0.24],[490,0.27],[500,0.3],[515,0.33],[515.5,0.5],[518,0.55],[535,0.56],[536.5,0.48],[545,0.45],[546.5,0.38],[553,0.33],[556,0.3],[557,0.31],[561,0.28],[566,0.25],[571,0.22],[576,0.19],[581,0.17],[590,0.14],[600,0.12]]],[498.5,[[361,0.12],[408,0.17],[420,0.24],[432,0.45],[445,0.5],[452.5,0.4],[453,0.18],[470,0.2],[500,0.24],[515,0.28],[550,0.3],[556,0.26],[565,0.2],[580,0.15],[600,0.12]]],[501,[[361,0.1],[430,0.15],[453,0.13],[515,0.18],[555,0.18],[600,0.1]]]],"p":[[0.15,0.19,[[405,440],[410,440],[418,501],[398,501]]],[0.34,0.28,[[424,483],[426.9,483],[427.7,488],[429,491.5],[431,494.5],[434,497],[438,498.8],[443,499.6],[451.5,499.6],[454,499.6],[454,502],[424,502]],1],[0.5,0.64,[[515.5,440],[515.5,497],[517,499.5],[519,500.5],[550,500.5],[552.5,498.5],[552.8,460],[551,455.5],[548,455],[545,457],[541,462],[537,468],[533,472],[528,470],[522,468],[518,455]]],[0.7,0.7,[[516,483],[516,497],[518,500],[549,500],[551,498],[551,462],[549.5,458.5],[547,458.5],[544,464],[541,472],[538,480],[535,484],[531,487],[528,485],[524,483],[520,482]]],[0.78,0.78,[[516.3,488],[516.3,498],[519,500],[548,500],[550,496],[550,470],[548,465],[545,472],[541,480],[537,487],[532,490],[528,489],[524,488],[520,488]]],[0.86,0.86,[[516.5,490],[517,498],[519.5,500],[541,500],[544,497],[544,490],[541,487],[536,491],[530,493],[524,492],[520,490]]],[0.92,0.92,[[517.5,494],[518,499],[520,500.3],[534,500.3],[537,498],[532,496],[524,495]]]],"s":3}];
function jet(v){
  var r=Math.min(1,Math.max(0,1.5-Math.abs(4*v-3)));
  var g=Math.min(1,Math.max(0,1.5-Math.abs(4*v-2)));
  var b=Math.min(1,Math.max(0,1.5-Math.abs(4*v-1)));
  return [r*255,g*255,b*255];
}
function evalRow(pts,x){
  var n=pts.length;
  if(x<=pts[0][0])return pts[0][1];
  if(x>=pts[n-1][0])return pts[n-1][1];
  var lo=0,hi=n-1;
  while(hi-lo>1){var m=(lo+hi)>>1;if(pts[m][0]<=x)lo=m;else hi=m;}
  var a=pts[lo],c=pts[hi];var t=(x-a[0])/(c[0]-a[0]);
  return a[1]+(c[1]-a[1])*t;
}
var host=document.getElementById('plots');
var SOFT=0.1,CSOFT=0.25;
function soft(a,w,h,k){
  var t=new Float32Array(w*h),c=1-2*k;
  for(var j=0;j<h;j++)for(var i=0;i<w;i++){var o=j*w+i;var l=i>0?a[o-1]:a[o],r=i<w-1?a[o+1]:a[o];t[o]=k*l+c*a[o]+k*r;}
  for(var j=0;j<h;j++)for(var i=0;i<w;i++){var o=j*w+i;var u=j>0?t[o-w]:t[o],dd=j<h-1?t[o+w]:t[o];a[o]=k*u+c*t[o]+k*dd;}
}
function inPoly(pts,x,y){
  var ins=false;
  for(var i=0,j=pts.length-1;i<pts.length;j=i++){
    var xi=pts[i][0],yi=pts[i][1],xj=pts[j][0],yj=pts[j][1];
    if(((yi>y)!==(yj>y))&&(x<(xj-xi)*(y-yi)/(yj-yi)+xi))ins=!ins;
  }
  return ins;
}
function blur(a,w,h,n){
  var t=new Float32Array(w*h);
  for(var it=0;it<n;it++){
    for(var j=0;j<h;j++)for(var i=0;i<w;i++){
      var o=j*w+i;var l=i>0?a[o-1]:a[o],r=i<w-1?a[o+1]:a[o];
      t[o]=0.25*l+0.5*a[o]+0.25*r;}
    for(var j=0;j<h;j++)for(var i=0;i<w;i++){
      var o=j*w+i;var u=j>0?t[o-w]:t[o],d=j<h-1?t[o+w]:t[o];
      a[o]=0.25*u+0.5*t[o]+0.25*d;}
  }
}
P.forEach(function(p){
  var b=p.b,x0=b[0],y0=b[1],w=b[2]-b[0],h=b[3]-b[1];
  var c=document.createElement('canvas');c.width=w;c.height=h;
  c.style.left=x0+'px';c.style.top=y0+'px';
  host.appendChild(c);
  var ctx=c.getContext('2d');var im=ctx.createImageData(w,h);var d=im.data;
  var rows=p.r;
  var base=new Float32Array(w*h),L=new Float32Array(w*h),A=new Float32Array(w*h);
  for(var j=0;j<h;j++){
    var Y=y0+j+0.5;
    var k=0;while(k<rows.length-2&&rows[k+1][0]<=Y)k++;
    var ra=rows[k],rb=rows[Math.min(k+1,rows.length-1)];
    var t=(rb[0]===ra[0])?0:Math.min(1,Math.max(0,(Y-ra[0])/(rb[0]-ra[0])));
    for(var i=0;i<w;i++){
      var X=x0+i+0.5;
      base[j*w+i]=evalRow(ra[1],X)*(1-t)+evalRow(rb[1],X)*t;
    }
  }
  L.set(base);
  (p.p||[]).forEach(function(q){
    var lt=q[0],lb=q[1],pts=q[2],mode=q[3]||0;
    var ymin=1e9,ymax=-1e9,xmin=1e9,xmax=-1e9;
    pts.forEach(function(a){ymin=Math.min(ymin,a[1]);ymax=Math.max(ymax,a[1]);xmin=Math.min(xmin,a[0]);xmax=Math.max(xmax,a[0]);});
    for(var j=Math.max(0,Math.floor(ymin-y0));j<Math.min(h,Math.ceil(ymax-y0)+1);j++){
      var Y=y0+j+0.5;var lv=lt+(lb-lt)*Math.min(1,Math.max(0,(Y-ymin)/(ymax-ymin)));
      for(var i=Math.max(0,Math.floor(xmin-x0));i<Math.min(w,Math.ceil(xmax-x0)+1);i++){
        var X=x0+i+0.5;
        if(inPoly(pts,X,Y)){var o=j*w+i;
          if(mode===1)L[o]=lv;else if(mode===2)L[o]=Math.min(L[o],lv);else L[o]=Math.max(L[o],lv);
          A[o]=1;}
      }
    }
  });
  var LA=new Float32Array(w*h);for(var o=0;o<w*h;o++)LA[o]=L[o]*A[o];
  var nb=p.s===undefined?2:p.s;
  blur(LA,w,h,nb);blur(A,w,h,nb);
  var R=new Float32Array(w*h),G=new Float32Array(w*h),Bc=new Float32Array(w*h);
  for(var o=0;o<w*h;o++){
    var v=base[o]*(1-A[o])+LA[o];
    var col=jet(v);R[o]=col[0];G[o]=col[1];Bc[o]=col[2];
  }
  var Yl=new Float32Array(w*h),Cb=new Float32Array(w*h),Cr=new Float32Array(w*h);
  for(var o=0;o<w*h;o++){var y=0.299*R[o]+0.587*G[o]+0.114*Bc[o];Yl[o]=y;Cb[o]=0.564*(Bc[o]-y);Cr[o]=0.713*(R[o]-y);}
  if(SOFT>0)soft(Yl,w,h,SOFT);
  if(CSOFT>0){soft(Cb,w,h,CSOFT);soft(Cr,w,h,CSOFT);soft(Cb,w,h,CSOFT);soft(Cr,w,h,CSOFT);}
  for(var o=0;o<w*h;o++){var y=Yl[o];
    var r=y+1.403*Cr[o],b=y+1.773*Cb[o],g=(y-0.299*r-0.114*b)/0.587;
    d[4*o]=r;d[4*o+1]=g;d[4*o+2]=b;d[4*o+3]=255;}
  ctx.putImageData(im,0,0);
  var f=document.createElement('div');f.className='frame';
  f.style.left=x0+'px';f.style.top=y0+'px';f.style.width=w+'px';f.style.height=h+'px';
  host.appendChild(f);
});
</script>
<div class="yl" style="left:5px;top:19.5px;">10000</div>
<div class="yl" style="left:5px;top:44.5px;">8000</div>
<div class="yl" style="left:5px;top:69.5px;">6000</div>
<div class="yl" style="left:5px;top:94.5px;">4000</div>
<div class="yl" style="left:5px;top:119.5px;">2000</div>
<div class="yl" style="left:5px;top:144.5px;">0</div>
<div class="yl" style="left:318px;top:21.5px;">10000</div>
<div class="yl" style="left:318px;top:46.5px;">8000</div>
<div class="yl" style="left:318px;top:71.5px;">6000</div>
<div class="yl" style="left:318px;top:96.5px;">4000</div>
<div class="yl" style="left:318px;top:121.5px;">2000</div>
<div class="yl" style="left:318px;top:146.5px;">0</div>
<div class="yl" style="left:5px;top:195.5px;">10000</div>
<div class="yl" style="left:5px;top:220.7px;">8000</div>
<div class="yl" style="left:5px;top:245.9px;">6000</div>
<div class="yl" style="left:5px;top:271.1px;">4000</div>
<div class="yl" style="left:5px;top:296.3px;">2000</div>
<div class="yl" style="left:5px;top:321.5px;">0</div>
<div class="yl" style="left:318px;top:195.5px;">10000</div>
<div class="yl" style="left:318px;top:220.7px;">8000</div>
<div class="yl" style="left:318px;top:245.9px;">6000</div>
<div class="yl" style="left:318px;top:271.1px;">4000</div>
<div class="yl" style="left:318px;top:296.3px;">2000</div>
<div class="yl" style="left:318px;top:321.5px;">0</div>
<div class="yl" style="left:5px;top:370.5px;">10000</div>
<div class="yl" style="left:5px;top:395.5px;">8000</div>
<div class="yl" style="left:5px;top:420.5px;">6000</div>
<div class="yl" style="left:5px;top:445.5px;">4000</div>
<div class="yl" style="left:5px;top:470.5px;">2000</div>
<div class="yl" style="left:5px;top:495.5px;">0</div>
<div class="yl" style="left:318px;top:370.5px;">10000</div>
<div class="yl" style="left:318px;top:395.5px;">8000</div>
<div class="yl" style="left:318px;top:420.5px;">6000</div>
<div class="yl" style="left:318px;top:445.5px;">4000</div>
<div class="yl" style="left:318px;top:470.5px;">2000</div>
<div class="yl" style="left:318px;top:495.5px;">0</div>
<div class="xl" style="left:69px;top:155.2px;">-0.5</div>
<div class="xl" style="left:145.5px;top:155.2px;">0</div>
<div class="xl" style="left:218.5px;top:155.2px;">0.5</div>
<div class="xl" style="left:383px;top:157.2px;">-0.5</div>
<div class="xl" style="left:460px;top:157.2px;">0</div>
<div class="xl" style="left:534px;top:157.2px;">0.5</div>
<div class="xl" style="left:70px;top:332.8px;">-0.5</div>
<div class="xl" style="left:146.2px;top:332.8px;">0</div>
<div class="xl" style="left:220.7px;top:332.8px;">0.5</div>
<div class="xl" style="left:383px;top:332.8px;">-0.5</div>
<div class="xl" style="left:460px;top:332.8px;">0</div>
<div class="xl" style="left:535px;top:332.8px;">0.5</div>
<div class="xl" style="left:70px;top:507.2px;">-0.5</div>
<div class="xl" style="left:146.2px;top:507.2px;">0</div>
<div class="xl" style="left:220.7px;top:507.2px;">0.5</div>
<div class="xl" style="left:383px;top:507.2px;">-0.5</div>
<div class="xl" style="left:460px;top:507.2px;">0</div>
<div class="xl" style="left:535px;top:507.2px;">0.5</div>
<div class="p" style="left:55px;top:2.15px;font-size:12px;line-height:12px;">log(</div>
<div class="p" style="left:75.8px;top:5.08px;font-size:8.5px;line-height:8.5px;font-style:italic;">J</div>
<div class="p" style="left:80.6px;top:-0.74px;font-size:9px;line-height:9px;font-style:italic;">L</div>
<div class="p" style="left:80.8px;top:8.76px;font-size:9px;line-height:9px;font-style:italic;">k</div>
<div class="p" style="left:86px;top:2.15px;font-size:12px;line-height:12px;">)</div>
<div class="p" style="left:92.3px;top:2.15px;font-size:12px;line-height:12px;">-</div>
<div class="p" style="left:102.7px;top:2.19px;font-size:11.6px;line-height:11.6px;font-weight:bold;">Case 1:</div>
<div class="p" style="left:143.0px;top:1.43px;font-size:12.5px;line-height:12.5px;font-style:italic;">T</div>
<div class="p" style="left:151.6px;top:5.16px;font-size:9px;line-height:9px;font-style:italic;">i</div>
<div class="p" style="left:153.0px;top:1.1px;font-size:16px;line-height:16px;">/</div>
<div class="p" style="left:157.6px;top:1.43px;font-size:12.5px;line-height:12.5px;font-style:italic;">T</div>
<div class="p" style="left:165.6px;top:5.76px;font-size:9px;line-height:9px;font-style:italic;">e</div>
<div class="p" style="left:171.7px;top:1.85px;font-size:12px;line-height:12px;">=</div>
<div class="p" style="left:180.8px;top:1.85px;font-size:12px;line-height:12px;">1/15</div>
<div class="p" style="left:203.4px;top:2.15px;font-size:12px;line-height:12px;">(</div>
<div class="p" style="left:209.3px;top:2.15px;font-size:12px;line-height:12px;font-style:italic;">g</div>
<div class="p" style="left:218.2px;top:2.15px;font-size:12px;line-height:12px;">=</div>
<div class="p" style="left:228px;top:2.15px;font-size:12px;line-height:12px;">5</div>
<div class="p" style="left:232.4px;top:3.41px;font-size:10.5px;line-height:10.5px;">&gt;</div>
<div class="p" style="left:237.4px;top:2.15px;font-size:12px;line-height:12px;">10</div>
<div class="p" style="left:247.6px;top:1.26px;font-size:9px;line-height:9px;">-3</div>
<div class="p" style="left:256.2px;top:2.15px;font-size:12px;line-height:12px;">)</div>
<div class="p" style="left:428.45px;top:4.19px;font-size:11.6px;line-height:11.6px;font-weight:bold;">Case 2:</div>
<div class="p" style="left:468.75px;top:3.43px;font-size:12.5px;line-height:12.5px;font-style:italic;">T</div>
<div class="p" style="left:477.35px;top:7.16px;font-size:9px;line-height:9px;font-style:italic;">i</div>
<div class="p" style="left:478.75px;top:3.1px;font-size:16px;line-height:16px;">/</div>
<div class="p" style="left:483.35px;top:3.43px;font-size:12.5px;line-height:12.5px;font-style:italic;">T</div>
<div class="p" style="left:491.35px;top:7.76px;font-size:9px;line-height:9px;font-style:italic;">e</div>
<div class="p" style="left:497.45px;top:3.85px;font-size:12px;line-height:12px;">=</div>
<div class="p" style="left:505.55px;top:3.85px;font-size:12px;line-height:12px;">1/10</div>
<div class="p" style="left:117.9px;top:179.09px;font-size:11.6px;line-height:11.6px;font-weight:bold;">Case 3:</div>
<div class="p" style="left:158.2px;top:178.33px;font-size:12.5px;line-height:12.5px;font-style:italic;">T</div>
<div class="p" style="left:166.8px;top:182.06px;font-size:9px;line-height:9px;font-style:italic;">i</div>
<div class="p" style="left:168.2px;top:178.0px;font-size:16px;line-height:16px;">/</div>
<div class="p" style="left:172.8px;top:178.33px;font-size:12.5px;line-height:12.5px;font-style:italic;">T</div>
<div class="p" style="left:180.8px;top:182.66px;font-size:9px;line-height:9px;font-style:italic;">e</div>
<div class="p" style="left:186.9px;top:178.75px;font-size:12px;line-height:12px;">=</div>
<div class="p" style="left:195.0px;top:178.75px;font-size:12px;line-height:12px;">1/7</div>
<div class="p" style="left:431.4px;top:179.09px;font-size:11.6px;line-height:11.6px;font-weight:bold;">Case 4:</div>
<div class="p" style="left:471.7px;top:178.33px;font-size:12.5px;line-height:12.5px;font-style:italic;">T</div>
<div class="p" style="left:480.3px;top:182.06px;font-size:9px;line-height:9px;font-style:italic;">i</div>
<div class="p" style="left:481.7px;top:178.0px;font-size:16px;line-height:16px;">/</div>
<div class="p" style="left:486.3px;top:178.33px;font-size:12.5px;line-height:12.5px;font-style:italic;">T</div>
<div class="p" style="left:494.3px;top:182.66px;font-size:9px;line-height:9px;font-style:italic;">e</div>
<div class="p" style="left:500.4px;top:178.75px;font-size:12px;line-height:12px;">=</div>
<div class="p" style="left:508.5px;top:178.75px;font-size:12px;line-height:12px;">1/4</div>
<div class="p" style="left:117.9px;top:353.39px;font-size:11.6px;line-height:11.6px;font-weight:bold;">Case 5:</div>
<div class="p" style="left:158.2px;top:352.63px;font-size:12.5px;line-height:12.5px;font-style:italic;">T</div>
<div class="p" style="left:166.8px;top:356.36px;font-size:9px;line-height:9px;font-style:italic;">i</div>
<div class="p" style="left:168.2px;top:352.3px;font-size:16px;line-height:16px;">/</div>
<div class="p" style="left:172.8px;top:352.63px;font-size:12.5px;line-height:12.5px;font-style:italic;">T</div>
<div class="p" style="left:180.8px;top:356.96px;font-size:9px;line-height:9px;font-style:italic;">e</div>
<div class="p" style="left:186.9px;top:353.05px;font-size:12px;line-height:12px;">=</div>
<div class="p" style="left:195.0px;top:353.05px;font-size:12px;line-height:12px;">1/2</div>
<div class="p" style="left:436.0px;top:353.29px;font-size:11.6px;line-height:11.6px;font-weight:bold;">Case 6:</div>
<div class="p" style="left:476.3px;top:352.53px;font-size:12.5px;line-height:12.5px;font-style:italic;">T</div>
<div class="p" style="left:484.9px;top:356.26px;font-size:9px;line-height:9px;font-style:italic;">i</div>
<div class="p" style="left:486.3px;top:352.2px;font-size:16px;line-height:16px;">/</div>
<div class="p" style="left:490.9px;top:352.53px;font-size:12.5px;line-height:12.5px;font-style:italic;">T</div>
<div class="p" style="left:498.9px;top:356.86px;font-size:9px;line-height:9px;font-style:italic;">e</div>
<div class="p" style="left:505.0px;top:352.95px;font-size:12px;line-height:12px;">=</div>
<div class="p" style="left:513.1px;top:352.95px;font-size:12px;line-height:12px;">1</div>
<div class="t" style="left:322px;top:30.5px;">-1</div>
<div style="position:absolute;left:317px;top:35.5px;width:2px;height:1px;background:rgba(0,0,0,.6)"></div>
<div style="position:absolute;left:299px;top:35.5px;width:2px;height:1px;background:rgba(0,0,0,.6)"></div>
<div class="t" style="left:322px;top:53.3px;">-2</div>
<div style="position:absolute;left:317px;top:58.3px;width:2px;height:1px;background:rgba(0,0,0,.6)"></div>
<div style="position:absolute;left:299px;top:58.3px;width:2px;height:1px;background:rgba(0,0,0,.6)"></div>
<div class="t" style="left:322px;top:76.1px;">-3</div>
<div style="position:absolute;left:317px;top:81.1px;width:2px;height:1px;background:rgba(0,0,0,.6)"></div>
<div style="position:absolute;left:299px;top:81.1px;width:2px;height:1px;background:rgba(0,0,0,.6)"></div>
<div class="t" style="left:322px;top:98.9px;">-4</div>
<div style="position:absolute;left:317px;top:103.9px;width:2px;height:1px;background:rgba(0,0,0,.6)"></div>
<div style="position:absolute;left:299px;top:103.9px;width:2px;height:1px;background:rgba(0,0,0,.6)"></div>
<div class="t" style="left:322px;top:121.7px;">-5</div>
<div style="position:absolute;left:317px;top:126.7px;width:2px;height:1px;background:rgba(0,0,0,.6)"></div>
<div style="position:absolute;left:299px;top:126.7px;width:2px;height:1px;background:rgba(0,0,0,.6)"></div>
<div class="frame" style="left:299px;top:25px;width:20px;height:125px;"></div>
<div class="rl" style="left:-17.8px;top:79.5px;"><span class="i">ω</span><sub class="i" style="font-size:8.5px;vertical-align:-4.5px">pe</sub> <span class="i">t</span></div>
<div class="rl" style="left:-17.8px;top:256.5px;"><span class="i">ω</span><sub class="i" style="font-size:8.5px;vertical-align:-4.5px">pe</sub> <span class="i">t</span></div>
<div class="rl" style="left:-17.8px;top:431px;"><span class="i">ω</span><sub class="i" style="font-size:8.5px;vertical-align:-4.5px">pe</sub> <span class="i">t</span></div>
<div class="p" style="left:149.3px;top:520.55px;font-size:12px;line-height:12px;font-weight:bold;font-style:italic;">kv</div>
<div class="p" style="left:159.5px;top:530.1px;font-size:8px;line-height:8px;font-style:italic;">e</div>
<div class="p" style="left:163.5px;top:523.24px;font-size:9.5px;line-height:9.5px;">/</div>
<div class="p" style="left:167.3px;top:522.01px;font-size:10.5px;line-height:10.5px;font-style:italic;">ω</div>
<div class="p" style="left:174.8px;top:529.9px;font-size:8px;line-height:8px;font-style:italic;">pe</div>
<div class="p" style="left:463.15px;top:520.55px;font-size:12px;line-height:12px;font-weight:bold;font-style:italic;">kv</div>
<div class="p" style="left:473.35px;top:530.1px;font-size:8px;line-height:8px;font-style:italic;">e</div>
<div class="p" style="left:477.35px;top:523.24px;font-size:9.5px;line-height:9.5px;">/</div>
<div class="p" style="left:481.15px;top:522.01px;font-size:10.5px;line-height:10.5px;font-style:italic;">ω</div>
<div class="p" style="left:488.65px;top:529.9px;font-size:8px;line-height:8px;font-style:italic;">pe</div>
</body></html>
